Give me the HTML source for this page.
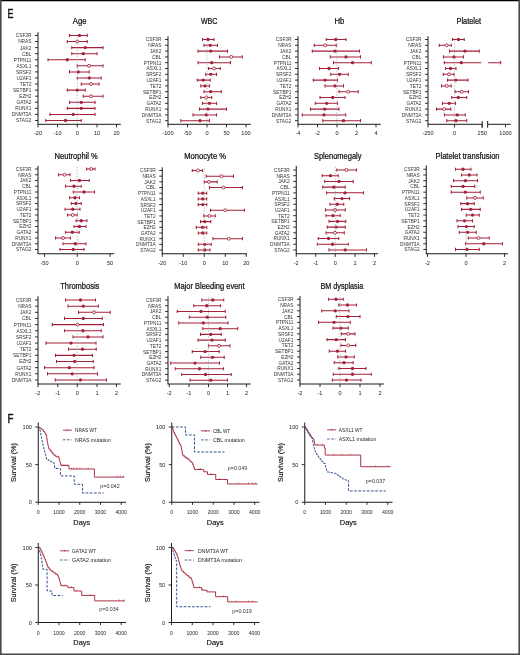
<!DOCTYPE html>
<html><head><meta charset="utf-8"><style>
html,body{margin:0;padding:0;background:#fff;}
body{width:520px;height:655px;overflow:hidden;position:relative;}
svg{position:absolute;left:0;top:0;display:block;will-change:transform;}
text{font-family:"Liberation Sans", sans-serif;}
</style></head><body>
<svg width="520" height="655" viewBox="0 0 520 655">
<rect x="0" y="0" width="520" height="655" fill="#fff"/>
<text x="0" y="0" font-size="12.2" fill="#111" stroke="#111" stroke-width="0.4" transform="translate(7.6 17.8) scale(0.73 1)">E</text>
<text x="0" y="0" font-size="12.2" fill="#111" stroke="#111" stroke-width="0.4" transform="translate(7.6 422.8) scale(0.8 1)">F</text>
<text x="79.65" y="24.00" font-size="8.5" text-anchor="middle" fill="#111" textLength="13.7" lengthAdjust="spacingAndGlyphs" stroke="#111" stroke-width="0.24">Age</text>
<path d="M38 32.2 V124.3" stroke="#1a1a1a" stroke-width="1" fill="none"/>
<path d="M37.5 124.3 H120.8" stroke="#1a1a1a" stroke-width="1" fill="none"/>
<path d="M38 124.3 V127.39999999999999" stroke="#1a1a1a" stroke-width="0.9"/>
<text x="38.00" y="135.40" font-size="5.6" text-anchor="middle" fill="#222" >-20</text>
<path d="M57.5 124.3 V127.39999999999999" stroke="#1a1a1a" stroke-width="0.9"/>
<text x="57.50" y="135.40" font-size="5.6" text-anchor="middle" fill="#222" >-10</text>
<path d="M77.3 124.3 V127.39999999999999" stroke="#1a1a1a" stroke-width="0.9"/>
<text x="77.30" y="135.40" font-size="5.6" text-anchor="middle" fill="#222" >0</text>
<path d="M97 124.3 V127.39999999999999" stroke="#1a1a1a" stroke-width="0.9"/>
<text x="97.00" y="135.40" font-size="5.6" text-anchor="middle" fill="#222" >10</text>
<path d="M116.5 124.3 V127.39999999999999" stroke="#1a1a1a" stroke-width="0.9"/>
<text x="116.50" y="135.40" font-size="5.6" text-anchor="middle" fill="#222" >20</text>
<path d="M35 35.45 H38" stroke="#1a1a1a" stroke-width="0.9"/>
<text x="0" y="0" font-size="5.5" text-anchor="end" fill="#333" transform="translate(31.40 37.40) scale(0.87 1)">CSF3R</text>
<path d="M69.5 35.45 H87.25 M69.5 33.85 V37.05 M87.25 33.85 V37.05" stroke="#a3213a" stroke-width="1.05" fill="none"/>
<circle cx="79.5" cy="35.45" r="1.65" fill="#a3213a"/>
<path d="M35 41.53 H38" stroke="#1a1a1a" stroke-width="0.9"/>
<text x="0" y="0" font-size="5.5" text-anchor="end" fill="#333" transform="translate(31.40 43.48) scale(0.87 1)">NRAS</text>
<path d="M67.25 41.53 H87.25 M67.25 39.93 V43.13 M87.25 39.93 V43.13" stroke="#a3213a" stroke-width="1.05" fill="none"/>
<circle cx="77.25" cy="41.53" r="1.5" fill="#fff" stroke="#a3213a" stroke-width="0.85"/>
<path d="M35 47.60 H38" stroke="#1a1a1a" stroke-width="0.9"/>
<text x="0" y="0" font-size="5.5" text-anchor="end" fill="#333" transform="translate(31.40 49.55) scale(0.87 1)">JAK2</text>
<path d="M71.75 47.60 H103 M71.75 46.00 V49.20 M103 46.00 V49.20" stroke="#a3213a" stroke-width="1.05" fill="none"/>
<circle cx="85.25" cy="47.60" r="1.65" fill="#a3213a"/>
<path d="M35 53.68 H38" stroke="#1a1a1a" stroke-width="0.9"/>
<text x="0" y="0" font-size="5.5" text-anchor="end" fill="#333" transform="translate(31.40 55.63) scale(0.87 1)">CBL</text>
<path d="M71.75 53.68 H97 M71.75 52.08 V55.28 M97 52.08 V55.28" stroke="#a3213a" stroke-width="1.05" fill="none"/>
<circle cx="83.25" cy="53.68" r="1.65" fill="#a3213a"/>
<path d="M35 59.75 H38" stroke="#1a1a1a" stroke-width="0.9"/>
<text x="0" y="0" font-size="5.5" text-anchor="end" fill="#333" transform="translate(31.40 61.70) scale(0.87 1)">PTPN11</text>
<path d="M48 59.75 H85.25 M48 58.15 V61.35 M85.25 58.15 V61.35" stroke="#a3213a" stroke-width="1.05" fill="none"/>
<circle cx="67.25" cy="59.75" r="1.65" fill="#a3213a"/>
<path d="M35 65.83 H38" stroke="#1a1a1a" stroke-width="0.9"/>
<text x="0" y="0" font-size="5.5" text-anchor="end" fill="#333" transform="translate(31.40 67.78) scale(0.87 1)">ASXL1</text>
<path d="M77.25 65.83 H103 M77.25 64.23 V67.42 M103 64.23 V67.42" stroke="#a3213a" stroke-width="1.05" fill="none"/>
<circle cx="89" cy="65.83" r="1.5" fill="#fff" stroke="#a3213a" stroke-width="0.85"/>
<path d="M35 71.90 H38" stroke="#1a1a1a" stroke-width="0.9"/>
<text x="0" y="0" font-size="5.5" text-anchor="end" fill="#333" transform="translate(31.40 73.85) scale(0.87 1)">SRSF2</text>
<path d="M69.5 71.90 H89.25 M69.5 70.30 V73.50 M89.25 70.30 V73.50" stroke="#a3213a" stroke-width="1.05" fill="none"/>
<circle cx="78.25" cy="71.90" r="1.65" fill="#a3213a"/>
<path d="M35 77.97 H38" stroke="#1a1a1a" stroke-width="0.9"/>
<text x="0" y="0" font-size="5.5" text-anchor="end" fill="#333" transform="translate(31.40 79.92) scale(0.87 1)">U2AF1</text>
<path d="M77.25 77.97 H101.25 M77.25 76.38 V79.57 M101.25 76.38 V79.57" stroke="#a3213a" stroke-width="1.05" fill="none"/>
<circle cx="89.25" cy="77.97" r="1.65" fill="#a3213a"/>
<path d="M35 84.05 H38" stroke="#1a1a1a" stroke-width="0.9"/>
<text x="0" y="0" font-size="5.5" text-anchor="end" fill="#333" transform="translate(31.40 86.00) scale(0.87 1)">TET2</text>
<path d="M81.25 84.05 H99 M81.25 82.45 V85.65 M99 82.45 V85.65" stroke="#a3213a" stroke-width="1.05" fill="none"/>
<circle cx="91" cy="84.05" r="1.5" fill="#fff" stroke="#a3213a" stroke-width="0.85"/>
<path d="M35 90.12 H38" stroke="#1a1a1a" stroke-width="0.9"/>
<text x="0" y="0" font-size="5.5" text-anchor="end" fill="#333" transform="translate(31.40 92.08) scale(0.87 1)">SETBP1</text>
<path d="M67.25 90.12 H85.25 M67.25 88.53 V91.72 M85.25 88.53 V91.72" stroke="#a3213a" stroke-width="1.05" fill="none"/>
<circle cx="77.25" cy="90.12" r="1.65" fill="#a3213a"/>
<path d="M35 96.20 H38" stroke="#1a1a1a" stroke-width="0.9"/>
<text x="0" y="0" font-size="5.5" text-anchor="end" fill="#333" transform="translate(31.40 98.15) scale(0.87 1)">EZH2</text>
<path d="M83.25 96.20 H103 M83.25 94.60 V97.80 M103 94.60 V97.80" stroke="#a3213a" stroke-width="1.05" fill="none"/>
<circle cx="91" cy="96.20" r="1.5" fill="#fff" stroke="#a3213a" stroke-width="0.85"/>
<path d="M35 102.28 H38" stroke="#1a1a1a" stroke-width="0.9"/>
<text x="0" y="0" font-size="5.5" text-anchor="end" fill="#333" transform="translate(31.40 104.23) scale(0.87 1)">GATA2</text>
<path d="M69.5 102.28 H95 M69.5 100.68 V103.88 M95 100.68 V103.88" stroke="#a3213a" stroke-width="1.05" fill="none"/>
<circle cx="81.25" cy="102.28" r="1.65" fill="#a3213a"/>
<path d="M35 108.35 H38" stroke="#1a1a1a" stroke-width="0.9"/>
<text x="0" y="0" font-size="5.5" text-anchor="end" fill="#333" transform="translate(31.40 110.30) scale(0.87 1)">RUNX1</text>
<path d="M67.25 108.35 H95 M67.25 106.75 V109.95 M95 106.75 V109.95" stroke="#a3213a" stroke-width="1.05" fill="none"/>
<circle cx="81.25" cy="108.35" r="1.65" fill="#a3213a"/>
<path d="M35 114.43 H38" stroke="#1a1a1a" stroke-width="0.9"/>
<text x="0" y="0" font-size="5.5" text-anchor="end" fill="#333" transform="translate(31.40 116.38) scale(0.87 1)">DNMT3A</text>
<path d="M50 114.43 H95 M50 112.83 V116.03 M95 112.83 V116.03" stroke="#a3213a" stroke-width="1.05" fill="none"/>
<circle cx="73.25" cy="114.43" r="1.65" fill="#a3213a"/>
<path d="M35 120.50 H38" stroke="#1a1a1a" stroke-width="0.9"/>
<text x="0" y="0" font-size="5.5" text-anchor="end" fill="#333" transform="translate(31.40 122.45) scale(0.87 1)">STAG2</text>
<path d="M45.75 120.50 H81.25 M45.75 118.90 V122.10 M81.25 118.90 V122.10" stroke="#a3213a" stroke-width="1.05" fill="none"/>
<circle cx="65.5" cy="120.50" r="1.65" fill="#a3213a"/>
<line x1="77.3" y1="37.5" x2="77.3" y2="123.5" stroke="#a0a0a0" stroke-width="0.75" stroke-dasharray="1.3 1.7"/>
<text x="209.15" y="24.00" font-size="8.5" text-anchor="middle" fill="#111" textLength="16.5" lengthAdjust="spacingAndGlyphs" stroke="#111" stroke-width="0.24">WBC</text>
<path d="M168 36.3 V124.3" stroke="#1a1a1a" stroke-width="1" fill="none"/>
<path d="M167.5 124.3 H250.75" stroke="#1a1a1a" stroke-width="1" fill="none"/>
<path d="M168 124.3 V127.39999999999999" stroke="#1a1a1a" stroke-width="0.9"/>
<text x="168.00" y="135.40" font-size="5.6" text-anchor="middle" fill="#222" >-100</text>
<path d="M187.5 124.3 V127.39999999999999" stroke="#1a1a1a" stroke-width="0.9"/>
<text x="187.50" y="135.40" font-size="5.6" text-anchor="middle" fill="#222" >-50</text>
<path d="M207 124.3 V127.39999999999999" stroke="#1a1a1a" stroke-width="0.9"/>
<text x="207.00" y="135.40" font-size="5.6" text-anchor="middle" fill="#222" >0</text>
<path d="M226.5 124.3 V127.39999999999999" stroke="#1a1a1a" stroke-width="0.9"/>
<text x="226.50" y="135.40" font-size="5.6" text-anchor="middle" fill="#222" >50</text>
<path d="M246 124.3 V127.39999999999999" stroke="#1a1a1a" stroke-width="0.9"/>
<text x="246.00" y="135.40" font-size="5.6" text-anchor="middle" fill="#222" >100</text>
<path d="M165 39.50 H168" stroke="#1a1a1a" stroke-width="0.9"/>
<text x="0" y="0" font-size="5.5" text-anchor="end" fill="#333" transform="translate(161.40 41.45) scale(0.87 1)">CSF3R</text>
<path d="M202.5 39.50 H214 M202.5 37.90 V41.10 M214 37.90 V41.10" stroke="#a3213a" stroke-width="1.05" fill="none"/>
<circle cx="208" cy="39.50" r="1.65" fill="#a3213a"/>
<path d="M165 45.30 H168" stroke="#1a1a1a" stroke-width="0.9"/>
<text x="0" y="0" font-size="5.5" text-anchor="end" fill="#333" transform="translate(161.40 47.25) scale(0.87 1)">NRAS</text>
<path d="M204 45.30 H217.5 M204 43.70 V46.90 M217.5 43.70 V46.90" stroke="#a3213a" stroke-width="1.05" fill="none"/>
<circle cx="210.25" cy="45.30" r="1.65" fill="#a3213a"/>
<path d="M165 51.10 H168" stroke="#1a1a1a" stroke-width="0.9"/>
<text x="0" y="0" font-size="5.5" text-anchor="end" fill="#333" transform="translate(161.40 53.05) scale(0.87 1)">JAK2</text>
<path d="M198 51.10 H227.5 M198 49.50 V52.70 M227.5 49.50 V52.70" stroke="#a3213a" stroke-width="1.05" fill="none"/>
<circle cx="210.75" cy="51.10" r="1.65" fill="#a3213a"/>
<path d="M165 56.90 H168" stroke="#1a1a1a" stroke-width="0.9"/>
<text x="0" y="0" font-size="5.5" text-anchor="end" fill="#333" transform="translate(161.40 58.85) scale(0.87 1)">CBL</text>
<path d="M219.5 56.90 H242.25 M219.5 55.30 V58.50 M242.25 55.30 V58.50" stroke="#a3213a" stroke-width="1.05" fill="none"/>
<circle cx="231.25" cy="56.90" r="1.5" fill="#fff" stroke="#a3213a" stroke-width="0.85"/>
<path d="M165 62.70 H168" stroke="#1a1a1a" stroke-width="0.9"/>
<text x="0" y="0" font-size="5.5" text-anchor="end" fill="#333" transform="translate(161.40 64.65) scale(0.87 1)">PTPN11</text>
<path d="M198 62.70 H230.5 M198 61.10 V64.30 M230.5 61.10 V64.30" stroke="#a3213a" stroke-width="1.05" fill="none"/>
<circle cx="211.75" cy="62.70" r="1.65" fill="#a3213a"/>
<path d="M165 68.50 H168" stroke="#1a1a1a" stroke-width="0.9"/>
<text x="0" y="0" font-size="5.5" text-anchor="end" fill="#333" transform="translate(161.40 70.45) scale(0.87 1)">ASXL1</text>
<path d="M208.5 68.50 H220.25 M208.5 66.90 V70.10 M220.25 66.90 V70.10" stroke="#a3213a" stroke-width="1.05" fill="none"/>
<circle cx="214" cy="68.50" r="1.5" fill="#fff" stroke="#a3213a" stroke-width="0.85"/>
<path d="M165 74.30 H168" stroke="#1a1a1a" stroke-width="0.9"/>
<text x="0" y="0" font-size="5.5" text-anchor="end" fill="#333" transform="translate(161.40 76.25) scale(0.87 1)">SRSF2</text>
<path d="M205.75 74.30 H216.5 M205.75 72.70 V75.90 M216.5 72.70 V75.90" stroke="#a3213a" stroke-width="1.05" fill="none"/>
<circle cx="210.75" cy="74.30" r="1.65" fill="#a3213a"/>
<path d="M165 80.10 H168" stroke="#1a1a1a" stroke-width="0.9"/>
<text x="0" y="0" font-size="5.5" text-anchor="end" fill="#333" transform="translate(161.40 82.05) scale(0.87 1)">U2AF1</text>
<path d="M197.25 80.10 H210.25 M197.25 78.50 V81.70 M210.25 78.50 V81.70" stroke="#a3213a" stroke-width="1.05" fill="none"/>
<circle cx="203.25" cy="80.10" r="1.65" fill="#a3213a"/>
<path d="M165 85.90 H168" stroke="#1a1a1a" stroke-width="0.9"/>
<text x="0" y="0" font-size="5.5" text-anchor="end" fill="#333" transform="translate(161.40 87.85) scale(0.87 1)">TET2</text>
<path d="M200.75 85.90 H209.5 M200.75 84.30 V87.50 M209.5 84.30 V87.50" stroke="#a3213a" stroke-width="1.05" fill="none"/>
<circle cx="205" cy="85.90" r="1.65" fill="#a3213a"/>
<path d="M165 91.70 H168" stroke="#1a1a1a" stroke-width="0.9"/>
<text x="0" y="0" font-size="5.5" text-anchor="end" fill="#333" transform="translate(161.40 93.65) scale(0.87 1)">SETBP1</text>
<path d="M204 91.70 H221.25 M204 90.10 V93.30 M221.25 90.10 V93.30" stroke="#a3213a" stroke-width="1.05" fill="none"/>
<circle cx="210.75" cy="91.70" r="1.65" fill="#a3213a"/>
<path d="M165 97.50 H168" stroke="#1a1a1a" stroke-width="0.9"/>
<text x="0" y="0" font-size="5.5" text-anchor="end" fill="#333" transform="translate(161.40 99.45) scale(0.87 1)">EZH2</text>
<path d="M200.75 97.50 H211.75 M200.75 95.90 V99.10 M211.75 95.90 V99.10" stroke="#a3213a" stroke-width="1.05" fill="none"/>
<circle cx="206.25" cy="97.50" r="1.5" fill="#fff" stroke="#a3213a" stroke-width="0.85"/>
<path d="M165 103.30 H168" stroke="#1a1a1a" stroke-width="0.9"/>
<text x="0" y="0" font-size="5.5" text-anchor="end" fill="#333" transform="translate(161.40 105.25) scale(0.87 1)">GATA2</text>
<path d="M202.5 103.30 H216.5 M202.5 101.70 V104.90 M216.5 101.70 V104.90" stroke="#a3213a" stroke-width="1.05" fill="none"/>
<circle cx="209.5" cy="103.30" r="1.65" fill="#a3213a"/>
<path d="M165 109.10 H168" stroke="#1a1a1a" stroke-width="0.9"/>
<text x="0" y="0" font-size="5.5" text-anchor="end" fill="#333" transform="translate(161.40 111.05) scale(0.87 1)">RUNX1</text>
<path d="M199.5 109.10 H226.5 M199.5 107.50 V110.70 M226.5 107.50 V110.70" stroke="#a3213a" stroke-width="1.05" fill="none"/>
<circle cx="208" cy="109.10" r="1.65" fill="#a3213a"/>
<path d="M165 114.90 H168" stroke="#1a1a1a" stroke-width="0.9"/>
<text x="0" y="0" font-size="5.5" text-anchor="end" fill="#333" transform="translate(161.40 116.85) scale(0.87 1)">DNMT3A</text>
<path d="M193 114.90 H216.5 M193 113.30 V116.50 M216.5 113.30 V116.50" stroke="#a3213a" stroke-width="1.05" fill="none"/>
<circle cx="206.25" cy="114.90" r="1.65" fill="#a3213a"/>
<path d="M165 120.70 H168" stroke="#1a1a1a" stroke-width="0.9"/>
<text x="0" y="0" font-size="5.5" text-anchor="end" fill="#333" transform="translate(161.40 122.65) scale(0.87 1)">STAG2</text>
<path d="M180.75 120.70 H209.5 M180.75 119.10 V122.30 M209.5 119.10 V122.30" stroke="#a3213a" stroke-width="1.05" fill="none"/>
<circle cx="200" cy="120.70" r="1.65" fill="#a3213a"/>
<line x1="206.9" y1="37.3" x2="206.9" y2="123.7" stroke="#a0a0a0" stroke-width="0.75" stroke-dasharray="1.3 1.7"/>
<text x="339.40" y="24.00" font-size="8.5" text-anchor="middle" fill="#111" textLength="9.799999999999999" lengthAdjust="spacingAndGlyphs" stroke="#111" stroke-width="0.24">Hb</text>
<path d="M298 36.3 V124.3" stroke="#1a1a1a" stroke-width="1" fill="none"/>
<path d="M297.5 124.3 H380.75" stroke="#1a1a1a" stroke-width="1" fill="none"/>
<path d="M298 124.3 V127.39999999999999" stroke="#1a1a1a" stroke-width="0.9"/>
<text x="298.00" y="135.40" font-size="5.6" text-anchor="middle" fill="#222" >-4</text>
<path d="M317.5 124.3 V127.39999999999999" stroke="#1a1a1a" stroke-width="0.9"/>
<text x="317.50" y="135.40" font-size="5.6" text-anchor="middle" fill="#222" >-2</text>
<path d="M337 124.3 V127.39999999999999" stroke="#1a1a1a" stroke-width="0.9"/>
<text x="337.00" y="135.40" font-size="5.6" text-anchor="middle" fill="#222" >0</text>
<path d="M356.5 124.3 V127.39999999999999" stroke="#1a1a1a" stroke-width="0.9"/>
<text x="356.50" y="135.40" font-size="5.6" text-anchor="middle" fill="#222" >2</text>
<path d="M376 124.3 V127.39999999999999" stroke="#1a1a1a" stroke-width="0.9"/>
<text x="376.00" y="135.40" font-size="5.6" text-anchor="middle" fill="#222" >4</text>
<path d="M295 39.50 H298" stroke="#1a1a1a" stroke-width="0.9"/>
<text x="0" y="0" font-size="5.5" text-anchor="end" fill="#333" transform="translate(291.40 41.45) scale(0.87 1)">CSF3R</text>
<path d="M326.25 39.50 H346 M326.25 37.90 V41.10 M346 37.90 V41.10" stroke="#a3213a" stroke-width="1.05" fill="none"/>
<circle cx="335.75" cy="39.50" r="1.65" fill="#a3213a"/>
<path d="M295 45.30 H298" stroke="#1a1a1a" stroke-width="0.9"/>
<text x="0" y="0" font-size="5.5" text-anchor="end" fill="#333" transform="translate(291.40 47.25) scale(0.87 1)">NRAS</text>
<path d="M314.25 45.30 H336.25 M314.25 43.70 V46.90 M336.25 43.70 V46.90" stroke="#a3213a" stroke-width="1.05" fill="none"/>
<circle cx="325.25" cy="45.30" r="1.5" fill="#fff" stroke="#a3213a" stroke-width="0.85"/>
<path d="M295 51.10 H298" stroke="#1a1a1a" stroke-width="0.9"/>
<text x="0" y="0" font-size="5.5" text-anchor="end" fill="#333" transform="translate(291.40 53.05) scale(0.87 1)">JAK2</text>
<path d="M312.25 51.10 H359.5 M312.25 49.50 V52.70 M359.5 49.50 V52.70" stroke="#a3213a" stroke-width="1.05" fill="none"/>
<circle cx="335" cy="51.10" r="1.65" fill="#a3213a"/>
<path d="M295 56.90 H298" stroke="#1a1a1a" stroke-width="0.9"/>
<text x="0" y="0" font-size="5.5" text-anchor="end" fill="#333" transform="translate(291.40 58.85) scale(0.87 1)">CBL</text>
<path d="M330.25 56.90 H360.5 M330.25 55.30 V58.50 M360.5 55.30 V58.50" stroke="#a3213a" stroke-width="1.05" fill="none"/>
<circle cx="346" cy="56.90" r="1.65" fill="#a3213a"/>
<path d="M295 62.70 H298" stroke="#1a1a1a" stroke-width="0.9"/>
<text x="0" y="0" font-size="5.5" text-anchor="end" fill="#333" transform="translate(291.40 64.65) scale(0.87 1)">PTPN11</text>
<path d="M333.5 62.70 H371.25 M333.5 61.10 V64.30 M371.25 61.10 V64.30" stroke="#a3213a" stroke-width="1.05" fill="none"/>
<circle cx="352.5" cy="62.70" r="1.65" fill="#a3213a"/>
<path d="M295 68.50 H298" stroke="#1a1a1a" stroke-width="0.9"/>
<text x="0" y="0" font-size="5.5" text-anchor="end" fill="#333" transform="translate(291.40 70.45) scale(0.87 1)">ASXL1</text>
<path d="M319.5 68.50 H338.5 M319.5 66.90 V70.10 M338.5 66.90 V70.10" stroke="#a3213a" stroke-width="1.05" fill="none"/>
<circle cx="329" cy="68.50" r="1.65" fill="#a3213a"/>
<path d="M295 74.30 H298" stroke="#1a1a1a" stroke-width="0.9"/>
<text x="0" y="0" font-size="5.5" text-anchor="end" fill="#333" transform="translate(291.40 76.25) scale(0.87 1)">SRSF2</text>
<path d="M330.75 74.30 H348.25 M330.75 72.70 V75.90 M348.25 72.70 V75.90" stroke="#a3213a" stroke-width="1.05" fill="none"/>
<circle cx="339.5" cy="74.30" r="1.65" fill="#a3213a"/>
<path d="M295 80.10 H298" stroke="#1a1a1a" stroke-width="0.9"/>
<text x="0" y="0" font-size="5.5" text-anchor="end" fill="#333" transform="translate(291.40 82.05) scale(0.87 1)">U2AF1</text>
<path d="M313.25 80.10 H337.5 M313.25 78.50 V81.70 M337.5 78.50 V81.70" stroke="#a3213a" stroke-width="1.05" fill="none"/>
<circle cx="325" cy="80.10" r="1.65" fill="#a3213a"/>
<path d="M295 85.90 H298" stroke="#1a1a1a" stroke-width="0.9"/>
<text x="0" y="0" font-size="5.5" text-anchor="end" fill="#333" transform="translate(291.40 87.85) scale(0.87 1)">TET2</text>
<path d="M325 85.90 H343.5 M325 84.30 V87.50 M343.5 84.30 V87.50" stroke="#a3213a" stroke-width="1.05" fill="none"/>
<circle cx="335" cy="85.90" r="1.65" fill="#a3213a"/>
<path d="M295 91.70 H298" stroke="#1a1a1a" stroke-width="0.9"/>
<text x="0" y="0" font-size="5.5" text-anchor="end" fill="#333" transform="translate(291.40 93.65) scale(0.87 1)">SETBP1</text>
<path d="M339 91.70 H358.25 M339 90.10 V93.30 M358.25 90.10 V93.30" stroke="#a3213a" stroke-width="1.05" fill="none"/>
<circle cx="348.25" cy="91.70" r="1.5" fill="#fff" stroke="#a3213a" stroke-width="0.85"/>
<path d="M295 97.50 H298" stroke="#1a1a1a" stroke-width="0.9"/>
<text x="0" y="0" font-size="5.5" text-anchor="end" fill="#333" transform="translate(291.40 99.45) scale(0.87 1)">EZH2</text>
<path d="M320 97.50 H345 M320 95.90 V99.10 M345 95.90 V99.10" stroke="#a3213a" stroke-width="1.05" fill="none"/>
<circle cx="332.75" cy="97.50" r="1.65" fill="#a3213a"/>
<path d="M295 103.30 H298" stroke="#1a1a1a" stroke-width="0.9"/>
<text x="0" y="0" font-size="5.5" text-anchor="end" fill="#333" transform="translate(291.40 105.25) scale(0.87 1)">GATA2</text>
<path d="M315.25 103.30 H337.5 M315.25 101.70 V104.90 M337.5 101.70 V104.90" stroke="#a3213a" stroke-width="1.05" fill="none"/>
<circle cx="326.75" cy="103.30" r="1.65" fill="#a3213a"/>
<path d="M295 109.10 H298" stroke="#1a1a1a" stroke-width="0.9"/>
<text x="0" y="0" font-size="5.5" text-anchor="end" fill="#333" transform="translate(291.40 111.05) scale(0.87 1)">RUNX1</text>
<path d="M310.5 109.10 H339 M310.5 107.50 V110.70 M339 107.50 V110.70" stroke="#a3213a" stroke-width="1.05" fill="none"/>
<circle cx="324.75" cy="109.10" r="1.65" fill="#a3213a"/>
<path d="M295 114.90 H298" stroke="#1a1a1a" stroke-width="0.9"/>
<text x="0" y="0" font-size="5.5" text-anchor="end" fill="#333" transform="translate(291.40 116.85) scale(0.87 1)">DNMT3A</text>
<path d="M302.25 114.90 H345.75 M302.25 113.30 V116.50 M345.75 113.30 V116.50" stroke="#a3213a" stroke-width="1.05" fill="none"/>
<circle cx="324" cy="114.90" r="1.65" fill="#a3213a"/>
<path d="M295 120.70 H298" stroke="#1a1a1a" stroke-width="0.9"/>
<text x="0" y="0" font-size="5.5" text-anchor="end" fill="#333" transform="translate(291.40 122.65) scale(0.87 1)">STAG2</text>
<path d="M322.75 120.70 H360.5 M322.75 119.10 V122.30 M360.5 119.10 V122.30" stroke="#a3213a" stroke-width="1.05" fill="none"/>
<circle cx="343.5" cy="120.70" r="1.65" fill="#a3213a"/>
<line x1="336.9" y1="37.3" x2="336.9" y2="123.7" stroke="#a0a0a0" stroke-width="0.75" stroke-dasharray="1.3 1.7"/>
<text x="468.80" y="24.00" font-size="8.5" text-anchor="middle" fill="#111" textLength="24.6" lengthAdjust="spacingAndGlyphs" stroke="#111" stroke-width="0.24">Platelet</text>
<path d="M428 36.3 V124.3" stroke="#1a1a1a" stroke-width="1" fill="none"/>
<path d="M427.5 124.3 H482.2 M487.6 124.3 H510.75" stroke="#1a1a1a" stroke-width="1" fill="none"/>
<path d="M482.2 120.89999999999999 V127.7 M487.6 120.89999999999999 V127.7" stroke="#333" stroke-width="1.1" fill="none"/>
<path d="M428 124.3 V127.39999999999999" stroke="#1a1a1a" stroke-width="0.9"/>
<text x="428.00" y="135.40" font-size="5.6" text-anchor="middle" fill="#222" >-250</text>
<path d="M454.5 124.3 V127.39999999999999" stroke="#1a1a1a" stroke-width="0.9"/>
<text x="454.50" y="135.40" font-size="5.6" text-anchor="middle" fill="#222" >0</text>
<path d="M482.2 124.3 V127.39999999999999" stroke="#1a1a1a" stroke-width="0.9"/>
<text x="482.20" y="135.40" font-size="5.6" text-anchor="middle" fill="#222" >250</text>
<path d="M505.5 124.3 V127.39999999999999" stroke="#1a1a1a" stroke-width="0.9"/>
<text x="505.50" y="135.40" font-size="5.6" text-anchor="middle" fill="#222" >1000</text>
<path d="M425 39.50 H428" stroke="#1a1a1a" stroke-width="0.9"/>
<text x="0" y="0" font-size="5.5" text-anchor="end" fill="#333" transform="translate(421.40 41.45) scale(0.87 1)">CSF3R</text>
<path d="M452.5 39.50 H464.25 M452.5 37.90 V41.10 M464.25 37.90 V41.10" stroke="#a3213a" stroke-width="1.05" fill="none"/>
<circle cx="458.5" cy="39.50" r="1.65" fill="#a3213a"/>
<path d="M425 45.30 H428" stroke="#1a1a1a" stroke-width="0.9"/>
<text x="0" y="0" font-size="5.5" text-anchor="end" fill="#333" transform="translate(421.40 47.25) scale(0.87 1)">NRAS</text>
<path d="M439.25 45.30 H451.25 M439.25 43.70 V46.90 M451.25 43.70 V46.90" stroke="#a3213a" stroke-width="1.05" fill="none"/>
<circle cx="446.5" cy="45.30" r="1.5" fill="#fff" stroke="#a3213a" stroke-width="0.85"/>
<path d="M425 51.10 H428" stroke="#1a1a1a" stroke-width="0.9"/>
<text x="0" y="0" font-size="5.5" text-anchor="end" fill="#333" transform="translate(421.40 53.05) scale(0.87 1)">JAK2</text>
<path d="M449.5 51.10 H479.25 M449.5 49.50 V52.70 M479.25 49.50 V52.70" stroke="#a3213a" stroke-width="1.05" fill="none"/>
<circle cx="465" cy="51.10" r="1.65" fill="#a3213a"/>
<path d="M425 56.90 H428" stroke="#1a1a1a" stroke-width="0.9"/>
<text x="0" y="0" font-size="5.5" text-anchor="end" fill="#333" transform="translate(421.40 58.85) scale(0.87 1)">CBL</text>
<path d="M443.5 56.90 H463.5 M443.5 55.30 V58.50 M463.5 55.30 V58.50" stroke="#a3213a" stroke-width="1.05" fill="none"/>
<circle cx="454" cy="56.90" r="1.65" fill="#a3213a"/>
<path d="M425 62.70 H428" stroke="#1a1a1a" stroke-width="0.9"/>
<text x="0" y="0" font-size="5.5" text-anchor="end" fill="#333" transform="translate(421.40 64.65) scale(0.87 1)">PTPN11</text>
<path d="M444.25 62.70 H481.25 M444.25 61.10 V64.30 M488.2 62.70 H500.7 M500.7 61.10 V64.30" stroke="#a3213a" stroke-width="1.05" fill="none"/>
<circle cx="461.25" cy="62.70" r="1.65" fill="#a3213a"/>
<path d="M425 68.50 H428" stroke="#1a1a1a" stroke-width="0.9"/>
<text x="0" y="0" font-size="5.5" text-anchor="end" fill="#333" transform="translate(421.40 70.45) scale(0.87 1)">ASXL1</text>
<path d="M445.5 68.50 H456 M445.5 66.90 V70.10 M456 66.90 V70.10" stroke="#a3213a" stroke-width="1.05" fill="none"/>
<circle cx="450.5" cy="68.50" r="1.65" fill="#a3213a"/>
<path d="M425 74.30 H428" stroke="#1a1a1a" stroke-width="0.9"/>
<text x="0" y="0" font-size="5.5" text-anchor="end" fill="#333" transform="translate(421.40 76.25) scale(0.87 1)">SRSF2</text>
<path d="M443.25 74.30 H454 M443.25 72.70 V75.90 M454 72.70 V75.90" stroke="#a3213a" stroke-width="1.05" fill="none"/>
<circle cx="449" cy="74.30" r="1.5" fill="#fff" stroke="#a3213a" stroke-width="0.85"/>
<path d="M425 80.10 H428" stroke="#1a1a1a" stroke-width="0.9"/>
<text x="0" y="0" font-size="5.5" text-anchor="end" fill="#333" transform="translate(421.40 82.05) scale(0.87 1)">U2AF1</text>
<path d="M447.5 80.10 H468 M447.5 78.50 V81.70 M468 78.50 V81.70" stroke="#a3213a" stroke-width="1.05" fill="none"/>
<circle cx="455.75" cy="80.10" r="1.65" fill="#a3213a"/>
<path d="M425 85.90 H428" stroke="#1a1a1a" stroke-width="0.9"/>
<text x="0" y="0" font-size="5.5" text-anchor="end" fill="#333" transform="translate(421.40 87.85) scale(0.87 1)">TET2</text>
<path d="M441.5 85.90 H451.25 M441.5 84.30 V87.50 M451.25 84.30 V87.50" stroke="#a3213a" stroke-width="1.05" fill="none"/>
<circle cx="446.75" cy="85.90" r="1.5" fill="#fff" stroke="#a3213a" stroke-width="0.85"/>
<path d="M425 91.70 H428" stroke="#1a1a1a" stroke-width="0.9"/>
<text x="0" y="0" font-size="5.5" text-anchor="end" fill="#333" transform="translate(421.40 93.65) scale(0.87 1)">SETBP1</text>
<path d="M455 91.70 H468.5 M455 90.10 V93.30 M468.5 90.10 V93.30" stroke="#a3213a" stroke-width="1.05" fill="none"/>
<circle cx="461.75" cy="91.70" r="1.5" fill="#fff" stroke="#a3213a" stroke-width="0.85"/>
<path d="M425 97.50 H428" stroke="#1a1a1a" stroke-width="0.9"/>
<text x="0" y="0" font-size="5.5" text-anchor="end" fill="#333" transform="translate(421.40 99.45) scale(0.87 1)">EZH2</text>
<path d="M451.75 97.50 H466.75 M451.75 95.90 V99.10 M466.75 95.90 V99.10" stroke="#a3213a" stroke-width="1.05" fill="none"/>
<circle cx="458.25" cy="97.50" r="1.65" fill="#a3213a"/>
<path d="M425 103.30 H428" stroke="#1a1a1a" stroke-width="0.9"/>
<text x="0" y="0" font-size="5.5" text-anchor="end" fill="#333" transform="translate(421.40 105.25) scale(0.87 1)">GATA2</text>
<path d="M442.5 103.30 H455.5 M442.5 101.70 V104.90 M455.5 101.70 V104.90" stroke="#a3213a" stroke-width="1.05" fill="none"/>
<circle cx="449.25" cy="103.30" r="1.65" fill="#a3213a"/>
<path d="M425 109.10 H428" stroke="#1a1a1a" stroke-width="0.9"/>
<text x="0" y="0" font-size="5.5" text-anchor="end" fill="#333" transform="translate(421.40 111.05) scale(0.87 1)">RUNX1</text>
<path d="M436.5 109.10 H450.75 M436.5 107.50 V110.70 M450.75 107.50 V110.70" stroke="#a3213a" stroke-width="1.05" fill="none"/>
<circle cx="444.25" cy="109.10" r="1.5" fill="#fff" stroke="#a3213a" stroke-width="0.85"/>
<path d="M425 114.90 H428" stroke="#1a1a1a" stroke-width="0.9"/>
<text x="0" y="0" font-size="5.5" text-anchor="end" fill="#333" transform="translate(421.40 116.85) scale(0.87 1)">DNMT3A</text>
<path d="M444.5 114.90 H465.25 M444.5 113.30 V116.50 M465.25 113.30 V116.50" stroke="#a3213a" stroke-width="1.05" fill="none"/>
<circle cx="457.25" cy="114.90" r="1.65" fill="#a3213a"/>
<path d="M425 120.70 H428" stroke="#1a1a1a" stroke-width="0.9"/>
<text x="0" y="0" font-size="5.5" text-anchor="end" fill="#333" transform="translate(421.40 122.65) scale(0.87 1)">STAG2</text>
<path d="M446.75 120.70 H466.75 M446.75 119.10 V122.30 M466.75 119.10 V122.30" stroke="#a3213a" stroke-width="1.05" fill="none"/>
<circle cx="456" cy="120.70" r="1.65" fill="#a3213a"/>
<line x1="454.6" y1="37.3" x2="454.6" y2="123.7" stroke="#a0a0a0" stroke-width="0.75" stroke-dasharray="1.3 1.7"/>
<text x="76.20" y="159.10" font-size="8.5" text-anchor="middle" fill="#111" textLength="43.300000000000004" lengthAdjust="spacingAndGlyphs" stroke="#111" stroke-width="0.24">Neutrophil %</text>
<path d="M38 166 V253.75" stroke="#1a1a1a" stroke-width="1" fill="none"/>
<path d="M37.5 253.75 H114.3" stroke="#1a1a1a" stroke-width="1" fill="none"/>
<path d="M44.5 253.75 V256.85" stroke="#1a1a1a" stroke-width="0.9"/>
<text x="44.50" y="264.90" font-size="5.6" text-anchor="middle" fill="#222" >-50</text>
<path d="M77.25 253.75 V256.85" stroke="#1a1a1a" stroke-width="0.9"/>
<text x="77.25" y="264.90" font-size="5.6" text-anchor="middle" fill="#222" >0</text>
<path d="M110 253.75 V256.85" stroke="#1a1a1a" stroke-width="0.9"/>
<text x="110.00" y="264.90" font-size="5.6" text-anchor="middle" fill="#222" >50</text>
<path d="M35 169.00 H38" stroke="#1a1a1a" stroke-width="0.9"/>
<text x="0" y="0" font-size="5.5" text-anchor="end" fill="#333" transform="translate(31.40 170.95) scale(0.87 1)">CSF3R</text>
<path d="M86.5 169.00 H95 M86.5 167.40 V170.60 M95 167.40 V170.60" stroke="#a3213a" stroke-width="1.05" fill="none"/>
<circle cx="91.25" cy="169.00" r="1.5" fill="#fff" stroke="#a3213a" stroke-width="0.85"/>
<path d="M35 174.75 H38" stroke="#1a1a1a" stroke-width="0.9"/>
<text x="0" y="0" font-size="5.5" text-anchor="end" fill="#333" transform="translate(31.40 176.70) scale(0.87 1)">NRAS</text>
<path d="M58.5 174.75 H70 M58.5 173.15 V176.35 M70 173.15 V176.35" stroke="#a3213a" stroke-width="1.05" fill="none"/>
<circle cx="64.5" cy="174.75" r="1.5" fill="#fff" stroke="#a3213a" stroke-width="0.85"/>
<path d="M35 180.50 H38" stroke="#1a1a1a" stroke-width="0.9"/>
<text x="0" y="0" font-size="5.5" text-anchor="end" fill="#333" transform="translate(31.40 182.45) scale(0.87 1)">JAK2</text>
<path d="M70.5 180.50 H89.25 M70.5 178.90 V182.10 M89.25 178.90 V182.10" stroke="#a3213a" stroke-width="1.05" fill="none"/>
<circle cx="79.5" cy="180.50" r="1.65" fill="#a3213a"/>
<path d="M35 186.25 H38" stroke="#1a1a1a" stroke-width="0.9"/>
<text x="0" y="0" font-size="5.5" text-anchor="end" fill="#333" transform="translate(31.40 188.20) scale(0.87 1)">CBL</text>
<path d="M65.5 186.25 H81.25 M65.5 184.65 V187.85 M81.25 184.65 V187.85" stroke="#a3213a" stroke-width="1.05" fill="none"/>
<circle cx="74" cy="186.25" r="1.65" fill="#a3213a"/>
<path d="M35 192.00 H38" stroke="#1a1a1a" stroke-width="0.9"/>
<text x="0" y="0" font-size="5.5" text-anchor="end" fill="#333" transform="translate(31.40 193.95) scale(0.87 1)">PTPN11</text>
<path d="M73.25 192.00 H94.5 M73.25 190.40 V193.60 M94.5 190.40 V193.60" stroke="#a3213a" stroke-width="1.05" fill="none"/>
<circle cx="84" cy="192.00" r="1.65" fill="#a3213a"/>
<path d="M35 197.75 H38" stroke="#1a1a1a" stroke-width="0.9"/>
<text x="0" y="0" font-size="5.5" text-anchor="end" fill="#333" transform="translate(31.40 199.70) scale(0.87 1)">ASXL1</text>
<path d="M69.5 197.75 H79.5 M69.5 196.15 V199.35 M79.5 196.15 V199.35" stroke="#a3213a" stroke-width="1.05" fill="none"/>
<circle cx="75" cy="197.75" r="1.65" fill="#a3213a"/>
<path d="M35 203.50 H38" stroke="#1a1a1a" stroke-width="0.9"/>
<text x="0" y="0" font-size="5.5" text-anchor="end" fill="#333" transform="translate(31.40 205.45) scale(0.87 1)">SRSF2</text>
<path d="M71.25 203.50 H81.25 M71.25 201.90 V205.10 M81.25 201.90 V205.10" stroke="#a3213a" stroke-width="1.05" fill="none"/>
<circle cx="76" cy="203.50" r="1.65" fill="#a3213a"/>
<path d="M35 209.25 H38" stroke="#1a1a1a" stroke-width="0.9"/>
<text x="0" y="0" font-size="5.5" text-anchor="end" fill="#333" transform="translate(31.40 211.20) scale(0.87 1)">U2AF1</text>
<path d="M65 209.25 H80 M65 207.65 V210.85 M80 207.65 V210.85" stroke="#a3213a" stroke-width="1.05" fill="none"/>
<circle cx="72.75" cy="209.25" r="1.65" fill="#a3213a"/>
<path d="M35 215.00 H38" stroke="#1a1a1a" stroke-width="0.9"/>
<text x="0" y="0" font-size="5.5" text-anchor="end" fill="#333" transform="translate(31.40 216.95) scale(0.87 1)">TET2</text>
<path d="M67.5 215.00 H77.25 M67.5 213.40 V216.60 M77.25 213.40 V216.60" stroke="#a3213a" stroke-width="1.05" fill="none"/>
<circle cx="72.75" cy="215.00" r="1.5" fill="#fff" stroke="#a3213a" stroke-width="0.85"/>
<path d="M35 220.75 H38" stroke="#1a1a1a" stroke-width="0.9"/>
<text x="0" y="0" font-size="5.5" text-anchor="end" fill="#333" transform="translate(31.40 222.70) scale(0.87 1)">SETBP1</text>
<path d="M76 220.75 H87 M76 219.15 V222.35 M87 219.15 V222.35" stroke="#a3213a" stroke-width="1.05" fill="none"/>
<circle cx="81.25" cy="220.75" r="1.65" fill="#a3213a"/>
<path d="M35 226.50 H38" stroke="#1a1a1a" stroke-width="0.9"/>
<text x="0" y="0" font-size="5.5" text-anchor="end" fill="#333" transform="translate(31.40 228.45) scale(0.87 1)">EZH2</text>
<path d="M74 226.50 H86 M74 224.90 V228.10 M86 224.90 V228.10" stroke="#a3213a" stroke-width="1.05" fill="none"/>
<circle cx="79.5" cy="226.50" r="1.65" fill="#a3213a"/>
<path d="M35 232.25 H38" stroke="#1a1a1a" stroke-width="0.9"/>
<text x="0" y="0" font-size="5.5" text-anchor="end" fill="#333" transform="translate(31.40 234.20) scale(0.87 1)">GATA2</text>
<path d="M65.5 232.25 H79.25 M65.5 230.65 V233.85 M79.25 230.65 V233.85" stroke="#a3213a" stroke-width="1.05" fill="none"/>
<circle cx="72.25" cy="232.25" r="1.65" fill="#a3213a"/>
<path d="M35 238.00 H38" stroke="#1a1a1a" stroke-width="0.9"/>
<text x="0" y="0" font-size="5.5" text-anchor="end" fill="#333" transform="translate(31.40 239.95) scale(0.87 1)">RUNX1</text>
<path d="M55.5 238.00 H70.5 M55.5 236.40 V239.60 M70.5 236.40 V239.60" stroke="#a3213a" stroke-width="1.05" fill="none"/>
<circle cx="63" cy="238.00" r="1.5" fill="#fff" stroke="#a3213a" stroke-width="0.85"/>
<path d="M35 243.75 H38" stroke="#1a1a1a" stroke-width="0.9"/>
<text x="0" y="0" font-size="5.5" text-anchor="end" fill="#333" transform="translate(31.40 245.70) scale(0.87 1)">DNMT3A</text>
<path d="M63 243.75 H86 M63 242.15 V245.35 M86 242.15 V245.35" stroke="#a3213a" stroke-width="1.05" fill="none"/>
<circle cx="75.25" cy="243.75" r="1.65" fill="#a3213a"/>
<path d="M35 249.50 H38" stroke="#1a1a1a" stroke-width="0.9"/>
<text x="0" y="0" font-size="5.5" text-anchor="end" fill="#333" transform="translate(31.40 251.45) scale(0.87 1)">STAG2</text>
<path d="M60 249.50 H84 M60 247.90 V251.10 M84 247.90 V251.10" stroke="#a3213a" stroke-width="1.05" fill="none"/>
<circle cx="73.25" cy="249.50" r="1.65" fill="#a3213a"/>
<line x1="77.25" y1="167" x2="77.25" y2="252.5" stroke="#a0a0a0" stroke-width="0.75" stroke-dasharray="1.3 1.7"/>
<text x="205.10" y="159.10" font-size="8.5" text-anchor="middle" fill="#111" textLength="41.85" lengthAdjust="spacingAndGlyphs" stroke="#111" stroke-width="0.24">Monocyte %</text>
<path d="M162.25 167.3 V253.75" stroke="#1a1a1a" stroke-width="1" fill="none"/>
<path d="M161.75 253.75 H247" stroke="#1a1a1a" stroke-width="1" fill="none"/>
<path d="M162.25 253.75 V256.85" stroke="#1a1a1a" stroke-width="0.9"/>
<text x="162.25" y="264.90" font-size="5.6" text-anchor="middle" fill="#222" >-20</text>
<path d="M183.25 253.75 V256.85" stroke="#1a1a1a" stroke-width="0.9"/>
<text x="183.25" y="264.90" font-size="5.6" text-anchor="middle" fill="#222" >-10</text>
<path d="M204.25 253.75 V256.85" stroke="#1a1a1a" stroke-width="0.9"/>
<text x="204.25" y="264.90" font-size="5.6" text-anchor="middle" fill="#222" >0</text>
<path d="M225.25 253.75 V256.85" stroke="#1a1a1a" stroke-width="0.9"/>
<text x="225.25" y="264.90" font-size="5.6" text-anchor="middle" fill="#222" >10</text>
<path d="M246.25 253.75 V256.85" stroke="#1a1a1a" stroke-width="0.9"/>
<text x="246.25" y="264.90" font-size="5.6" text-anchor="middle" fill="#222" >20</text>
<path d="M159.25 170.50 H162.25" stroke="#1a1a1a" stroke-width="0.9"/>
<text x="0" y="0" font-size="5.5" text-anchor="end" fill="#333" transform="translate(155.65 172.45) scale(0.87 1)">CSF3R</text>
<path d="M192.25 170.50 H202.5 M192.25 168.90 V172.10 M202.5 168.90 V172.10" stroke="#a3213a" stroke-width="1.05" fill="none"/>
<circle cx="198" cy="170.50" r="1.5" fill="#fff" stroke="#a3213a" stroke-width="0.85"/>
<path d="M159.25 176.18 H162.25" stroke="#1a1a1a" stroke-width="0.9"/>
<text x="0" y="0" font-size="5.5" text-anchor="end" fill="#333" transform="translate(155.65 178.13) scale(0.87 1)">NRAS</text>
<path d="M206.25 176.18 H233.5 M206.25 174.58 V177.78 M233.5 174.58 V177.78" stroke="#a3213a" stroke-width="1.05" fill="none"/>
<circle cx="221.5" cy="176.18" r="1.5" fill="#fff" stroke="#a3213a" stroke-width="0.85"/>
<path d="M159.25 181.86 H162.25" stroke="#1a1a1a" stroke-width="0.9"/>
<text x="0" y="0" font-size="5.5" text-anchor="end" fill="#333" transform="translate(155.65 183.81) scale(0.87 1)">JAK2</text>
<path d="M204.25 181.86 H217.25 M204.25 180.26 V183.46 M217.25 180.26 V183.46" stroke="#a3213a" stroke-width="1.05" fill="none"/>
<circle cx="209" cy="181.86" r="1.5" fill="#fff" stroke="#a3213a" stroke-width="0.85"/>
<path d="M159.25 187.54 H162.25" stroke="#1a1a1a" stroke-width="0.9"/>
<text x="0" y="0" font-size="5.5" text-anchor="end" fill="#333" transform="translate(155.65 189.49) scale(0.87 1)">CBL</text>
<path d="M209.5 187.54 H242.5 M209.5 185.94 V189.14 M242.5 185.94 V189.14" stroke="#a3213a" stroke-width="1.05" fill="none"/>
<circle cx="223.5" cy="187.54" r="1.5" fill="#fff" stroke="#a3213a" stroke-width="0.85"/>
<path d="M159.25 193.22 H162.25" stroke="#1a1a1a" stroke-width="0.9"/>
<text x="0" y="0" font-size="5.5" text-anchor="end" fill="#333" transform="translate(155.65 195.17) scale(0.87 1)">PTPN11</text>
<path d="M198.25 193.22 H206.75 M198.25 191.62 V194.82 M206.75 191.62 V194.82" stroke="#a3213a" stroke-width="1.05" fill="none"/>
<circle cx="202.75" cy="193.22" r="1.65" fill="#a3213a"/>
<path d="M159.25 198.90 H162.25" stroke="#1a1a1a" stroke-width="0.9"/>
<text x="0" y="0" font-size="5.5" text-anchor="end" fill="#333" transform="translate(155.65 200.85) scale(0.87 1)">ASXL1</text>
<path d="M198.25 198.90 H206.75 M198.25 197.30 V200.50 M206.75 197.30 V200.50" stroke="#a3213a" stroke-width="1.05" fill="none"/>
<circle cx="202.75" cy="198.90" r="1.65" fill="#a3213a"/>
<path d="M159.25 204.58 H162.25" stroke="#1a1a1a" stroke-width="0.9"/>
<text x="0" y="0" font-size="5.5" text-anchor="end" fill="#333" transform="translate(155.65 206.53) scale(0.87 1)">SRSF2</text>
<path d="M198.25 204.58 H206.75 M198.25 202.98 V206.18 M206.75 202.98 V206.18" stroke="#a3213a" stroke-width="1.05" fill="none"/>
<circle cx="202.75" cy="204.58" r="1.65" fill="#a3213a"/>
<path d="M159.25 210.26 H162.25" stroke="#1a1a1a" stroke-width="0.9"/>
<text x="0" y="0" font-size="5.5" text-anchor="end" fill="#333" transform="translate(155.65 212.21) scale(0.87 1)">U2AF1</text>
<path d="M210.5 210.26 H244.5 M210.5 208.66 V211.86 M244.5 208.66 V211.86" stroke="#a3213a" stroke-width="1.05" fill="none"/>
<circle cx="225.25" cy="210.26" r="1.5" fill="#fff" stroke="#a3213a" stroke-width="0.85"/>
<path d="M159.25 215.94 H162.25" stroke="#1a1a1a" stroke-width="0.9"/>
<text x="0" y="0" font-size="5.5" text-anchor="end" fill="#333" transform="translate(155.65 217.89) scale(0.87 1)">TET2</text>
<path d="M203.75 215.94 H215.25 M203.75 214.34 V217.54 M215.25 214.34 V217.54" stroke="#a3213a" stroke-width="1.05" fill="none"/>
<circle cx="209.5" cy="215.94" r="1.5" fill="#fff" stroke="#a3213a" stroke-width="0.85"/>
<path d="M159.25 221.62 H162.25" stroke="#1a1a1a" stroke-width="0.9"/>
<text x="0" y="0" font-size="5.5" text-anchor="end" fill="#333" transform="translate(155.65 223.57) scale(0.87 1)">SETBP1</text>
<path d="M200.5 221.62 H210.75 M200.5 220.02 V223.22 M210.75 220.02 V223.22" stroke="#a3213a" stroke-width="1.05" fill="none"/>
<circle cx="204.75" cy="221.62" r="1.65" fill="#a3213a"/>
<path d="M159.25 227.30 H162.25" stroke="#1a1a1a" stroke-width="0.9"/>
<text x="0" y="0" font-size="5.5" text-anchor="end" fill="#333" transform="translate(155.65 229.25) scale(0.87 1)">EZH2</text>
<path d="M196.25 227.30 H206.75 M196.25 225.70 V228.90 M206.75 225.70 V228.90" stroke="#a3213a" stroke-width="1.05" fill="none"/>
<circle cx="202.5" cy="227.30" r="1.65" fill="#a3213a"/>
<path d="M159.25 232.98 H162.25" stroke="#1a1a1a" stroke-width="0.9"/>
<text x="0" y="0" font-size="5.5" text-anchor="end" fill="#333" transform="translate(155.65 234.93) scale(0.87 1)">GATA2</text>
<path d="M198.25 232.98 H206.75 M198.25 231.38 V234.58 M206.75 231.38 V234.58" stroke="#a3213a" stroke-width="1.05" fill="none"/>
<circle cx="202.75" cy="232.98" r="1.65" fill="#a3213a"/>
<path d="M159.25 238.66 H162.25" stroke="#1a1a1a" stroke-width="0.9"/>
<text x="0" y="0" font-size="5.5" text-anchor="end" fill="#333" transform="translate(155.65 240.61) scale(0.87 1)">RUNX1</text>
<path d="M213 238.66 H242.5 M213 237.06 V240.26 M242.5 237.06 V240.26" stroke="#a3213a" stroke-width="1.05" fill="none"/>
<circle cx="228.75" cy="238.66" r="1.5" fill="#fff" stroke="#a3213a" stroke-width="0.85"/>
<path d="M159.25 244.34 H162.25" stroke="#1a1a1a" stroke-width="0.9"/>
<text x="0" y="0" font-size="5.5" text-anchor="end" fill="#333" transform="translate(155.65 246.29) scale(0.87 1)">DNMT3A</text>
<path d="M198.25 244.34 H211.25 M198.25 242.74 V245.94 M211.25 242.74 V245.94" stroke="#a3213a" stroke-width="1.05" fill="none"/>
<circle cx="204.75" cy="244.34" r="1.65" fill="#a3213a"/>
<path d="M159.25 250.02 H162.25" stroke="#1a1a1a" stroke-width="0.9"/>
<text x="0" y="0" font-size="5.5" text-anchor="end" fill="#333" transform="translate(155.65 251.97) scale(0.87 1)">STAG2</text>
<path d="M198.25 250.02 H210 M198.25 248.42 V251.62 M210 248.42 V251.62" stroke="#a3213a" stroke-width="1.05" fill="none"/>
<circle cx="204.75" cy="250.02" r="1.65" fill="#a3213a"/>
<line x1="204.25" y1="168.3" x2="204.25" y2="253.01999999999998" stroke="#a0a0a0" stroke-width="0.75" stroke-dasharray="1.3 1.7"/>
<text x="337.75" y="159.10" font-size="8.5" text-anchor="middle" fill="#111" textLength="47.6" lengthAdjust="spacingAndGlyphs" stroke="#111" stroke-width="0.24">Splenomegaly</text>
<path d="M296.25 165.8 V253.75" stroke="#1a1a1a" stroke-width="1" fill="none"/>
<path d="M295.75 253.75 H378" stroke="#1a1a1a" stroke-width="1" fill="none"/>
<path d="M296.25 253.75 V256.85" stroke="#1a1a1a" stroke-width="0.9"/>
<text x="296.25" y="264.90" font-size="5.6" text-anchor="middle" fill="#222" >-2</text>
<path d="M315.75 253.75 V256.85" stroke="#1a1a1a" stroke-width="0.9"/>
<text x="315.75" y="264.90" font-size="5.6" text-anchor="middle" fill="#222" >-1</text>
<path d="M335.25 253.75 V256.85" stroke="#1a1a1a" stroke-width="0.9"/>
<text x="335.25" y="264.90" font-size="5.6" text-anchor="middle" fill="#222" >0</text>
<path d="M355 253.75 V256.85" stroke="#1a1a1a" stroke-width="0.9"/>
<text x="355.00" y="264.90" font-size="5.6" text-anchor="middle" fill="#222" >1</text>
<path d="M374.5 253.75 V256.85" stroke="#1a1a1a" stroke-width="0.9"/>
<text x="374.50" y="264.90" font-size="5.6" text-anchor="middle" fill="#222" >2</text>
<path d="M293.25 170.00 H296.25" stroke="#1a1a1a" stroke-width="0.9"/>
<text x="0" y="0" font-size="5.5" text-anchor="end" fill="#333" transform="translate(289.65 171.95) scale(0.87 1)">CSF3R</text>
<path d="M336.75 170.00 H356.5 M336.75 168.40 V171.60 M356.5 168.40 V171.60" stroke="#a3213a" stroke-width="1.05" fill="none"/>
<circle cx="346.5" cy="170.00" r="1.5" fill="#fff" stroke="#a3213a" stroke-width="0.85"/>
<path d="M293.25 175.71 H296.25" stroke="#1a1a1a" stroke-width="0.9"/>
<text x="0" y="0" font-size="5.5" text-anchor="end" fill="#333" transform="translate(289.65 177.66) scale(0.87 1)">NRAS</text>
<path d="M322.25 175.71 H338.25 M322.25 174.11 V177.31 M338.25 174.11 V177.31" stroke="#a3213a" stroke-width="1.05" fill="none"/>
<circle cx="330.5" cy="175.71" r="1.65" fill="#a3213a"/>
<path d="M293.25 181.42 H296.25" stroke="#1a1a1a" stroke-width="0.9"/>
<text x="0" y="0" font-size="5.5" text-anchor="end" fill="#333" transform="translate(289.65 183.37) scale(0.87 1)">JAK2</text>
<path d="M324.75 181.42 H353.25 M324.75 179.82 V183.02 M353.25 179.82 V183.02" stroke="#a3213a" stroke-width="1.05" fill="none"/>
<circle cx="339" cy="181.42" r="1.65" fill="#a3213a"/>
<path d="M293.25 187.13 H296.25" stroke="#1a1a1a" stroke-width="0.9"/>
<text x="0" y="0" font-size="5.5" text-anchor="end" fill="#333" transform="translate(289.65 189.08) scale(0.87 1)">CBL</text>
<path d="M322.75 187.13 H345.25 M322.75 185.53 V188.73 M345.25 185.53 V188.73" stroke="#a3213a" stroke-width="1.05" fill="none"/>
<circle cx="333.75" cy="187.13" r="1.65" fill="#a3213a"/>
<path d="M293.25 192.84 H296.25" stroke="#1a1a1a" stroke-width="0.9"/>
<text x="0" y="0" font-size="5.5" text-anchor="end" fill="#333" transform="translate(289.65 194.79) scale(0.87 1)">PTPN11</text>
<path d="M326.5 192.84 H363.5 M326.5 191.24 V194.44 M363.5 191.24 V194.44" stroke="#a3213a" stroke-width="1.05" fill="none"/>
<circle cx="345" cy="192.84" r="1.65" fill="#a3213a"/>
<path d="M293.25 198.55 H296.25" stroke="#1a1a1a" stroke-width="0.9"/>
<text x="0" y="0" font-size="5.5" text-anchor="end" fill="#333" transform="translate(289.65 200.50) scale(0.87 1)">ASXL1</text>
<path d="M334.25 198.55 H349.5 M334.25 196.95 V200.15 M349.5 196.95 V200.15" stroke="#a3213a" stroke-width="1.05" fill="none"/>
<circle cx="342" cy="198.55" r="1.65" fill="#a3213a"/>
<path d="M293.25 204.26 H296.25" stroke="#1a1a1a" stroke-width="0.9"/>
<text x="0" y="0" font-size="5.5" text-anchor="end" fill="#333" transform="translate(289.65 206.21) scale(0.87 1)">SRSF2</text>
<path d="M330 204.26 H343.75 M330 202.66 V205.86 M343.75 202.66 V205.86" stroke="#a3213a" stroke-width="1.05" fill="none"/>
<circle cx="337.25" cy="204.26" r="1.65" fill="#a3213a"/>
<path d="M293.25 209.97 H296.25" stroke="#1a1a1a" stroke-width="0.9"/>
<text x="0" y="0" font-size="5.5" text-anchor="end" fill="#333" transform="translate(289.65 211.92) scale(0.87 1)">U2AF1</text>
<path d="M325.5 209.97 H345.25 M325.5 208.37 V211.57 M345.25 208.37 V211.57" stroke="#a3213a" stroke-width="1.05" fill="none"/>
<circle cx="335" cy="209.97" r="1.5" fill="#fff" stroke="#a3213a" stroke-width="0.85"/>
<path d="M293.25 215.68 H296.25" stroke="#1a1a1a" stroke-width="0.9"/>
<text x="0" y="0" font-size="5.5" text-anchor="end" fill="#333" transform="translate(289.65 217.63) scale(0.87 1)">TET2</text>
<path d="M326 215.68 H340.25 M326 214.08 V217.28 M340.25 214.08 V217.28" stroke="#a3213a" stroke-width="1.05" fill="none"/>
<circle cx="333" cy="215.68" r="1.65" fill="#a3213a"/>
<path d="M293.25 221.39 H296.25" stroke="#1a1a1a" stroke-width="0.9"/>
<text x="0" y="0" font-size="5.5" text-anchor="end" fill="#333" transform="translate(289.65 223.34) scale(0.87 1)">SETBP1</text>
<path d="M329 221.39 H345.75 M329 219.79 V222.99 M345.75 219.79 V222.99" stroke="#a3213a" stroke-width="1.05" fill="none"/>
<circle cx="337.5" cy="221.39" r="1.65" fill="#a3213a"/>
<path d="M293.25 227.10 H296.25" stroke="#1a1a1a" stroke-width="0.9"/>
<text x="0" y="0" font-size="5.5" text-anchor="end" fill="#333" transform="translate(289.65 229.05) scale(0.87 1)">EZH2</text>
<path d="M327.25 227.10 H345.25 M327.25 225.50 V228.70 M345.25 225.50 V228.70" stroke="#a3213a" stroke-width="1.05" fill="none"/>
<circle cx="336" cy="227.10" r="1.65" fill="#a3213a"/>
<path d="M293.25 232.81 H296.25" stroke="#1a1a1a" stroke-width="0.9"/>
<text x="0" y="0" font-size="5.5" text-anchor="end" fill="#333" transform="translate(289.65 234.76) scale(0.87 1)">GATA2</text>
<path d="M326 232.81 H344.25 M326 231.21 V234.41 M344.25 231.21 V234.41" stroke="#a3213a" stroke-width="1.05" fill="none"/>
<circle cx="335" cy="232.81" r="1.5" fill="#fff" stroke="#a3213a" stroke-width="0.85"/>
<path d="M293.25 238.52 H296.25" stroke="#1a1a1a" stroke-width="0.9"/>
<text x="0" y="0" font-size="5.5" text-anchor="end" fill="#333" transform="translate(289.65 240.47) scale(0.87 1)">RUNX1</text>
<path d="M318.25 238.52 H338.75 M318.25 236.92 V240.12 M338.75 236.92 V240.12" stroke="#a3213a" stroke-width="1.05" fill="none"/>
<circle cx="328.5" cy="238.52" r="1.65" fill="#a3213a"/>
<path d="M293.25 244.23 H296.25" stroke="#1a1a1a" stroke-width="0.9"/>
<text x="0" y="0" font-size="5.5" text-anchor="end" fill="#333" transform="translate(289.65 246.18) scale(0.87 1)">DNMT3A</text>
<path d="M317.25 244.23 H348.25 M317.25 242.63 V245.83 M348.25 242.63 V245.83" stroke="#a3213a" stroke-width="1.05" fill="none"/>
<circle cx="332.5" cy="244.23" r="1.65" fill="#a3213a"/>
<path d="M293.25 249.94 H296.25" stroke="#1a1a1a" stroke-width="0.9"/>
<text x="0" y="0" font-size="5.5" text-anchor="end" fill="#333" transform="translate(289.65 251.89) scale(0.87 1)">STAG2</text>
<path d="M329 249.94 H366.5 M329 248.34 V251.54 M366.5 248.34 V251.54" stroke="#a3213a" stroke-width="1.05" fill="none"/>
<circle cx="345.25" cy="249.94" r="1.65" fill="#a3213a"/>
<line x1="335.25" y1="166.8" x2="335.25" y2="252.94" stroke="#a0a0a0" stroke-width="0.75" stroke-dasharray="1.3 1.7"/>
<text x="467.50" y="159.10" font-size="8.5" text-anchor="middle" fill="#111" textLength="64.1" lengthAdjust="spacingAndGlyphs" stroke="#111" stroke-width="0.24">Platelet transfusion</text>
<path d="M426.25 165.5 V253.75" stroke="#1a1a1a" stroke-width="1" fill="none"/>
<path d="M425.75 253.75 H508" stroke="#1a1a1a" stroke-width="1" fill="none"/>
<path d="M427.5 253.75 V256.85" stroke="#1a1a1a" stroke-width="0.9"/>
<text x="427.50" y="264.90" font-size="5.6" text-anchor="middle" fill="#222" >-2</text>
<path d="M466 253.75 V256.85" stroke="#1a1a1a" stroke-width="0.9"/>
<text x="466.00" y="264.90" font-size="5.6" text-anchor="middle" fill="#222" >0</text>
<path d="M504.5 253.75 V256.85" stroke="#1a1a1a" stroke-width="0.9"/>
<text x="504.50" y="264.90" font-size="5.6" text-anchor="middle" fill="#222" >2</text>
<path d="M423.25 169.25 H426.25" stroke="#1a1a1a" stroke-width="0.9"/>
<text x="0" y="0" font-size="5.5" text-anchor="end" fill="#333" transform="translate(419.65 171.20) scale(0.87 1)">CSF3R</text>
<path d="M455.5 169.25 H471 M455.5 167.65 V170.85 M471 167.65 V170.85" stroke="#a3213a" stroke-width="1.05" fill="none"/>
<circle cx="463" cy="169.25" r="1.65" fill="#a3213a"/>
<path d="M423.25 174.98 H426.25" stroke="#1a1a1a" stroke-width="0.9"/>
<text x="0" y="0" font-size="5.5" text-anchor="end" fill="#333" transform="translate(419.65 176.93) scale(0.87 1)">NRAS</text>
<path d="M461.5 174.98 H477 M461.5 173.38 V176.58 M477 173.38 V176.58" stroke="#a3213a" stroke-width="1.05" fill="none"/>
<circle cx="469.25" cy="174.98" r="1.65" fill="#a3213a"/>
<path d="M423.25 180.71 H426.25" stroke="#1a1a1a" stroke-width="0.9"/>
<text x="0" y="0" font-size="5.5" text-anchor="end" fill="#333" transform="translate(419.65 182.66) scale(0.87 1)">JAK2</text>
<path d="M453.5 180.71 H477.5 M453.5 179.11 V182.31 M477.5 179.11 V182.31" stroke="#a3213a" stroke-width="1.05" fill="none"/>
<circle cx="465.5" cy="180.71" r="1.65" fill="#a3213a"/>
<path d="M423.25 186.44 H426.25" stroke="#1a1a1a" stroke-width="0.9"/>
<text x="0" y="0" font-size="5.5" text-anchor="end" fill="#333" transform="translate(419.65 188.39) scale(0.87 1)">CBL</text>
<path d="M451.25 186.44 H474.75 M451.25 184.84 V188.04 M474.75 184.84 V188.04" stroke="#a3213a" stroke-width="1.05" fill="none"/>
<circle cx="463" cy="186.44" r="1.65" fill="#a3213a"/>
<path d="M423.25 192.17 H426.25" stroke="#1a1a1a" stroke-width="0.9"/>
<text x="0" y="0" font-size="5.5" text-anchor="end" fill="#333" transform="translate(419.65 194.12) scale(0.87 1)">PTPN11</text>
<path d="M451.25 192.17 H480.25 M451.25 190.57 V193.77 M480.25 190.57 V193.77" stroke="#a3213a" stroke-width="1.05" fill="none"/>
<circle cx="465.25" cy="192.17" r="1.65" fill="#a3213a"/>
<path d="M423.25 197.90 H426.25" stroke="#1a1a1a" stroke-width="0.9"/>
<text x="0" y="0" font-size="5.5" text-anchor="end" fill="#333" transform="translate(419.65 199.85) scale(0.87 1)">ASXL1</text>
<path d="M466.75 197.90 H483.25 M466.75 196.30 V199.50 M483.25 196.30 V199.50" stroke="#a3213a" stroke-width="1.05" fill="none"/>
<circle cx="475" cy="197.90" r="1.5" fill="#fff" stroke="#a3213a" stroke-width="0.85"/>
<path d="M423.25 203.63 H426.25" stroke="#1a1a1a" stroke-width="0.9"/>
<text x="0" y="0" font-size="5.5" text-anchor="end" fill="#333" transform="translate(419.65 205.58) scale(0.87 1)">SRSF2</text>
<path d="M460.75 203.63 H474.25 M460.75 202.03 V205.23 M474.25 202.03 V205.23" stroke="#a3213a" stroke-width="1.05" fill="none"/>
<circle cx="467.5" cy="203.63" r="1.65" fill="#a3213a"/>
<path d="M423.25 209.36 H426.25" stroke="#1a1a1a" stroke-width="0.9"/>
<text x="0" y="0" font-size="5.5" text-anchor="end" fill="#333" transform="translate(419.65 211.31) scale(0.87 1)">U2AF1</text>
<path d="M461.5 209.36 H480.25 M461.5 207.76 V210.96 M480.25 207.76 V210.96" stroke="#a3213a" stroke-width="1.05" fill="none"/>
<circle cx="470.75" cy="209.36" r="1.65" fill="#a3213a"/>
<path d="M423.25 215.09 H426.25" stroke="#1a1a1a" stroke-width="0.9"/>
<text x="0" y="0" font-size="5.5" text-anchor="end" fill="#333" transform="translate(419.65 217.04) scale(0.87 1)">TET2</text>
<path d="M466.25 215.09 H479.25 M466.25 213.49 V216.69 M479.25 213.49 V216.69" stroke="#a3213a" stroke-width="1.05" fill="none"/>
<circle cx="472.5" cy="215.09" r="1.65" fill="#a3213a"/>
<path d="M423.25 220.82 H426.25" stroke="#1a1a1a" stroke-width="0.9"/>
<text x="0" y="0" font-size="5.5" text-anchor="end" fill="#333" transform="translate(419.65 222.77) scale(0.87 1)">SETBP1</text>
<path d="M457 220.82 H472.5 M457 219.22 V222.42 M472.5 219.22 V222.42" stroke="#a3213a" stroke-width="1.05" fill="none"/>
<circle cx="464.5" cy="220.82" r="1.65" fill="#a3213a"/>
<path d="M423.25 226.55 H426.25" stroke="#1a1a1a" stroke-width="0.9"/>
<text x="0" y="0" font-size="5.5" text-anchor="end" fill="#333" transform="translate(419.65 228.50) scale(0.87 1)">EZH2</text>
<path d="M458 226.55 H474.25 M458 224.95 V228.15 M474.25 224.95 V228.15" stroke="#a3213a" stroke-width="1.05" fill="none"/>
<circle cx="466.25" cy="226.55" r="1.65" fill="#a3213a"/>
<path d="M423.25 232.28 H426.25" stroke="#1a1a1a" stroke-width="0.9"/>
<text x="0" y="0" font-size="5.5" text-anchor="end" fill="#333" transform="translate(419.65 234.23) scale(0.87 1)">GATA2</text>
<path d="M459.25 232.28 H476.25 M459.25 230.68 V233.88 M476.25 230.68 V233.88" stroke="#a3213a" stroke-width="1.05" fill="none"/>
<circle cx="467.5" cy="232.28" r="1.65" fill="#a3213a"/>
<path d="M423.25 238.01 H426.25" stroke="#1a1a1a" stroke-width="0.9"/>
<text x="0" y="0" font-size="5.5" text-anchor="end" fill="#333" transform="translate(419.65 239.96) scale(0.87 1)">RUNX1</text>
<path d="M468.25 238.01 H489.25 M468.25 236.41 V239.61 M489.25 236.41 V239.61" stroke="#a3213a" stroke-width="1.05" fill="none"/>
<circle cx="478.5" cy="238.01" r="1.5" fill="#fff" stroke="#a3213a" stroke-width="0.85"/>
<path d="M423.25 243.74 H426.25" stroke="#1a1a1a" stroke-width="0.9"/>
<text x="0" y="0" font-size="5.5" text-anchor="end" fill="#333" transform="translate(419.65 245.69) scale(0.87 1)">DNMT3A</text>
<path d="M465.5 243.74 H502.5 M465.5 242.14 V245.34 M502.5 242.14 V245.34" stroke="#a3213a" stroke-width="1.05" fill="none"/>
<circle cx="483.75" cy="243.74" r="1.65" fill="#a3213a"/>
<path d="M423.25 249.47 H426.25" stroke="#1a1a1a" stroke-width="0.9"/>
<text x="0" y="0" font-size="5.5" text-anchor="end" fill="#333" transform="translate(419.65 251.42) scale(0.87 1)">STAG2</text>
<path d="M455.5 249.47 H479.25 M455.5 247.87 V251.07 M479.25 247.87 V251.07" stroke="#a3213a" stroke-width="1.05" fill="none"/>
<circle cx="467" cy="249.47" r="1.65" fill="#a3213a"/>
<line x1="466" y1="229" x2="466" y2="252.47" stroke="#a0a0a0" stroke-width="0.75" stroke-dasharray="1.3 1.7"/>
<text x="79.75" y="289.00" font-size="8.5" text-anchor="middle" fill="#111" textLength="39.1" lengthAdjust="spacingAndGlyphs" stroke="#111" stroke-width="0.24">Thrombosis</text>
<path d="M38 296.3 V384" stroke="#1a1a1a" stroke-width="1" fill="none"/>
<path d="M37.5 384 H120.75" stroke="#1a1a1a" stroke-width="1" fill="none"/>
<path d="M38 384 V387.1" stroke="#1a1a1a" stroke-width="0.9"/>
<text x="38.00" y="395.10" font-size="5.6" text-anchor="middle" fill="#222" >-2</text>
<path d="M57.75 384 V387.1" stroke="#1a1a1a" stroke-width="0.9"/>
<text x="57.75" y="395.10" font-size="5.6" text-anchor="middle" fill="#222" >-1</text>
<path d="M77.25 384 V387.1" stroke="#1a1a1a" stroke-width="0.9"/>
<text x="77.25" y="395.10" font-size="5.6" text-anchor="middle" fill="#222" >0</text>
<path d="M97 384 V387.1" stroke="#1a1a1a" stroke-width="0.9"/>
<text x="97.00" y="395.10" font-size="5.6" text-anchor="middle" fill="#222" >1</text>
<path d="M116.5 384 V387.1" stroke="#1a1a1a" stroke-width="0.9"/>
<text x="116.50" y="395.10" font-size="5.6" text-anchor="middle" fill="#222" >2</text>
<path d="M35 300.00 H38" stroke="#1a1a1a" stroke-width="0.9"/>
<text x="0" y="0" font-size="5.5" text-anchor="end" fill="#333" transform="translate(31.40 301.95) scale(0.87 1)">CSF3R</text>
<path d="M65.5 300.00 H95.5 M65.5 298.40 V301.60 M95.5 298.40 V301.60" stroke="#a3213a" stroke-width="1.05" fill="none"/>
<circle cx="80.5" cy="300.00" r="1.65" fill="#a3213a"/>
<path d="M35 306.15 H38" stroke="#1a1a1a" stroke-width="0.9"/>
<text x="0" y="0" font-size="5.5" text-anchor="end" fill="#333" transform="translate(31.40 308.10) scale(0.87 1)">NRAS</text>
<path d="M68 306.15 H98.25 M68 304.55 V307.75 M98.25 304.55 V307.75" stroke="#a3213a" stroke-width="1.05" fill="none"/>
<circle cx="83.25" cy="306.15" r="1.65" fill="#a3213a"/>
<path d="M35 312.30 H38" stroke="#1a1a1a" stroke-width="0.9"/>
<text x="0" y="0" font-size="5.5" text-anchor="end" fill="#333" transform="translate(31.40 314.25) scale(0.87 1)">JAK2</text>
<path d="M78.5 312.30 H110.25 M78.5 310.70 V313.90 M110.25 310.70 V313.90" stroke="#a3213a" stroke-width="1.05" fill="none"/>
<circle cx="94" cy="312.30" r="1.5" fill="#fff" stroke="#a3213a" stroke-width="0.85"/>
<path d="M35 318.45 H38" stroke="#1a1a1a" stroke-width="0.9"/>
<text x="0" y="0" font-size="5.5" text-anchor="end" fill="#333" transform="translate(31.40 320.40) scale(0.87 1)">CBL</text>
<path d="M64.5 318.45 H102.25 M64.5 316.85 V320.05 M102.25 316.85 V320.05" stroke="#a3213a" stroke-width="1.05" fill="none"/>
<circle cx="83.25" cy="318.45" r="1.65" fill="#a3213a"/>
<path d="M35 324.60 H38" stroke="#1a1a1a" stroke-width="0.9"/>
<text x="0" y="0" font-size="5.5" text-anchor="end" fill="#333" transform="translate(31.40 326.55) scale(0.87 1)">PTPN11</text>
<path d="M52.25 324.60 H103.5 M52.25 323.00 V326.20 M103.5 323.00 V326.20" stroke="#a3213a" stroke-width="1.05" fill="none"/>
<circle cx="77.5" cy="324.60" r="1.5" fill="#fff" stroke="#a3213a" stroke-width="0.85"/>
<path d="M35 330.75 H38" stroke="#1a1a1a" stroke-width="0.9"/>
<text x="0" y="0" font-size="5.5" text-anchor="end" fill="#333" transform="translate(31.40 332.70) scale(0.87 1)">ASXL1</text>
<path d="M64.5 330.75 H101.25 M64.5 329.15 V332.35 M101.25 329.15 V332.35" stroke="#a3213a" stroke-width="1.05" fill="none"/>
<circle cx="83" cy="330.75" r="1.65" fill="#a3213a"/>
<path d="M35 336.90 H38" stroke="#1a1a1a" stroke-width="0.9"/>
<text x="0" y="0" font-size="5.5" text-anchor="end" fill="#333" transform="translate(31.40 338.85) scale(0.87 1)">SRSF2</text>
<path d="M73 336.90 H103 M73 335.30 V338.50 M103 335.30 V338.50" stroke="#a3213a" stroke-width="1.05" fill="none"/>
<circle cx="88" cy="336.90" r="1.65" fill="#a3213a"/>
<path d="M35 343.05 H38" stroke="#1a1a1a" stroke-width="0.9"/>
<text x="0" y="0" font-size="5.5" text-anchor="end" fill="#333" transform="translate(31.40 345.00) scale(0.87 1)">U2AF1</text>
<path d="M46 343.05 H96 M46 341.45 V344.65 M96 341.45 V344.65" stroke="#a3213a" stroke-width="1.05" fill="none"/>
<circle cx="71" cy="343.05" r="1.65" fill="#a3213a"/>
<path d="M35 349.20 H38" stroke="#1a1a1a" stroke-width="0.9"/>
<text x="0" y="0" font-size="5.5" text-anchor="end" fill="#333" transform="translate(31.40 351.15) scale(0.87 1)">TET2</text>
<path d="M68.5 349.20 H96.25 M68.5 347.60 V350.80 M96.25 347.60 V350.80" stroke="#a3213a" stroke-width="1.05" fill="none"/>
<circle cx="82.5" cy="349.20" r="1.65" fill="#a3213a"/>
<path d="M35 355.35 H38" stroke="#1a1a1a" stroke-width="0.9"/>
<text x="0" y="0" font-size="5.5" text-anchor="end" fill="#333" transform="translate(31.40 357.30) scale(0.87 1)">SETBP1</text>
<path d="M55.5 355.35 H92.5 M55.5 353.75 V356.95 M92.5 353.75 V356.95" stroke="#a3213a" stroke-width="1.05" fill="none"/>
<circle cx="74" cy="355.35" r="1.65" fill="#a3213a"/>
<path d="M35 361.50 H38" stroke="#1a1a1a" stroke-width="0.9"/>
<text x="0" y="0" font-size="5.5" text-anchor="end" fill="#333" transform="translate(31.40 363.45) scale(0.87 1)">EZH2</text>
<path d="M56.5 361.50 H93.25 M56.5 359.90 V363.10 M93.25 359.90 V363.10" stroke="#a3213a" stroke-width="1.05" fill="none"/>
<circle cx="74.75" cy="361.50" r="1.65" fill="#a3213a"/>
<path d="M35 367.65 H38" stroke="#1a1a1a" stroke-width="0.9"/>
<text x="0" y="0" font-size="5.5" text-anchor="end" fill="#333" transform="translate(31.40 369.60) scale(0.87 1)">GATA2</text>
<path d="M44.5 367.65 H94 M44.5 366.05 V369.25 M94 366.05 V369.25" stroke="#a3213a" stroke-width="1.05" fill="none"/>
<circle cx="69.25" cy="367.65" r="1.65" fill="#a3213a"/>
<path d="M35 373.80 H38" stroke="#1a1a1a" stroke-width="0.9"/>
<text x="0" y="0" font-size="5.5" text-anchor="end" fill="#333" transform="translate(31.40 375.75) scale(0.87 1)">RUNX1</text>
<path d="M47.5 373.80 H97.5 M47.5 372.20 V375.40 M97.5 372.20 V375.40" stroke="#a3213a" stroke-width="1.05" fill="none"/>
<circle cx="72.25" cy="373.80" r="1.65" fill="#a3213a"/>
<path d="M35 379.95 H38" stroke="#1a1a1a" stroke-width="0.9"/>
<text x="0" y="0" font-size="5.5" text-anchor="end" fill="#333" transform="translate(31.40 381.90) scale(0.87 1)">DNMT3A</text>
<path d="M55.25 379.95 H106.5 M55.25 378.35 V381.55 M106.5 378.35 V381.55" stroke="#a3213a" stroke-width="1.05" fill="none"/>
<circle cx="80.5" cy="379.95" r="1.65" fill="#a3213a"/>
<line x1="77.25" y1="324.5" x2="77.25" y2="382.95" stroke="#a0a0a0" stroke-width="0.75" stroke-dasharray="1.3 1.7"/>
<text x="209.40" y="289.00" font-size="8.5" text-anchor="middle" fill="#111" textLength="70.35" lengthAdjust="spacingAndGlyphs" stroke="#111" stroke-width="0.24">Major Bleeding event</text>
<path d="M168 296.3 V384" stroke="#1a1a1a" stroke-width="1" fill="none"/>
<path d="M167.5 384 H250.75" stroke="#1a1a1a" stroke-width="1" fill="none"/>
<path d="M169.25 384 V387.1" stroke="#1a1a1a" stroke-width="0.9"/>
<text x="169.25" y="395.10" font-size="5.6" text-anchor="middle" fill="#222" >-2</text>
<path d="M189 384 V387.1" stroke="#1a1a1a" stroke-width="0.9"/>
<text x="189.00" y="395.10" font-size="5.6" text-anchor="middle" fill="#222" >-1</text>
<path d="M208.5 384 V387.1" stroke="#1a1a1a" stroke-width="0.9"/>
<text x="208.50" y="395.10" font-size="5.6" text-anchor="middle" fill="#222" >0</text>
<path d="M227.5 384 V387.1" stroke="#1a1a1a" stroke-width="0.9"/>
<text x="227.50" y="395.10" font-size="5.6" text-anchor="middle" fill="#222" >1</text>
<path d="M246.5 384 V387.1" stroke="#1a1a1a" stroke-width="0.9"/>
<text x="246.50" y="395.10" font-size="5.6" text-anchor="middle" fill="#222" >2</text>
<path d="M165 300.00 H168" stroke="#1a1a1a" stroke-width="0.9"/>
<text x="0" y="0" font-size="5.5" text-anchor="end" fill="#333" transform="translate(161.40 301.95) scale(0.87 1)">CSF3R</text>
<path d="M201.75 300.00 H223.75 M201.75 298.40 V301.60 M223.75 298.40 V301.60" stroke="#a3213a" stroke-width="1.05" fill="none"/>
<circle cx="212.75" cy="300.00" r="1.65" fill="#a3213a"/>
<path d="M165 305.73 H168" stroke="#1a1a1a" stroke-width="0.9"/>
<text x="0" y="0" font-size="5.5" text-anchor="end" fill="#333" transform="translate(161.40 307.68) scale(0.87 1)">NRAS</text>
<path d="M193.75 305.73 H220.5 M193.75 304.13 V307.33 M220.5 304.13 V307.33" stroke="#a3213a" stroke-width="1.05" fill="none"/>
<circle cx="206.75" cy="305.73" r="1.65" fill="#a3213a"/>
<path d="M165 311.46 H168" stroke="#1a1a1a" stroke-width="0.9"/>
<text x="0" y="0" font-size="5.5" text-anchor="end" fill="#333" transform="translate(161.40 313.41) scale(0.87 1)">JAK2</text>
<path d="M177.25 311.46 H225.25 M177.25 309.86 V313.06 M225.25 309.86 V313.06" stroke="#a3213a" stroke-width="1.05" fill="none"/>
<circle cx="201" cy="311.46" r="1.65" fill="#a3213a"/>
<path d="M165 317.19 H168" stroke="#1a1a1a" stroke-width="0.9"/>
<text x="0" y="0" font-size="5.5" text-anchor="end" fill="#333" transform="translate(161.40 319.14) scale(0.87 1)">CBL</text>
<path d="M189.25 317.19 H225.75 M189.25 315.59 V318.79 M225.75 315.59 V318.79" stroke="#a3213a" stroke-width="1.05" fill="none"/>
<circle cx="207.25" cy="317.19" r="1.65" fill="#a3213a"/>
<path d="M165 322.92 H168" stroke="#1a1a1a" stroke-width="0.9"/>
<text x="0" y="0" font-size="5.5" text-anchor="end" fill="#333" transform="translate(161.40 324.87) scale(0.87 1)">PTPN11</text>
<path d="M178.75 322.92 H228 M178.75 321.32 V324.52 M228 321.32 V324.52" stroke="#a3213a" stroke-width="1.05" fill="none"/>
<circle cx="203.25" cy="322.92" r="1.65" fill="#a3213a"/>
<path d="M165 328.65 H168" stroke="#1a1a1a" stroke-width="0.9"/>
<text x="0" y="0" font-size="5.5" text-anchor="end" fill="#333" transform="translate(161.40 330.60) scale(0.87 1)">ASXL1</text>
<path d="M202.75 328.65 H237.75 M202.75 327.05 V330.25 M237.75 327.05 V330.25" stroke="#a3213a" stroke-width="1.05" fill="none"/>
<circle cx="220.25" cy="328.65" r="1.65" fill="#a3213a"/>
<path d="M165 334.38 H168" stroke="#1a1a1a" stroke-width="0.9"/>
<text x="0" y="0" font-size="5.5" text-anchor="end" fill="#333" transform="translate(161.40 336.33) scale(0.87 1)">SRSF2</text>
<path d="M200.5 334.38 H221.25 M200.5 332.78 V335.98 M221.25 332.78 V335.98" stroke="#a3213a" stroke-width="1.05" fill="none"/>
<circle cx="210.75" cy="334.38" r="1.65" fill="#a3213a"/>
<path d="M165 340.11 H168" stroke="#1a1a1a" stroke-width="0.9"/>
<text x="0" y="0" font-size="5.5" text-anchor="end" fill="#333" transform="translate(161.40 342.06) scale(0.87 1)">U2AF1</text>
<path d="M198 340.11 H225.25 M198 338.51 V341.71 M225.25 338.51 V341.71" stroke="#a3213a" stroke-width="1.05" fill="none"/>
<circle cx="212" cy="340.11" r="1.65" fill="#a3213a"/>
<path d="M165 345.84 H168" stroke="#1a1a1a" stroke-width="0.9"/>
<text x="0" y="0" font-size="5.5" text-anchor="end" fill="#333" transform="translate(161.40 347.79) scale(0.87 1)">TET2</text>
<path d="M208.5 345.84 H230 M208.5 344.24 V347.44 M230 344.24 V347.44" stroke="#a3213a" stroke-width="1.05" fill="none"/>
<circle cx="219" cy="345.84" r="1.5" fill="#fff" stroke="#a3213a" stroke-width="0.85"/>
<path d="M165 351.57 H168" stroke="#1a1a1a" stroke-width="0.9"/>
<text x="0" y="0" font-size="5.5" text-anchor="end" fill="#333" transform="translate(161.40 353.52) scale(0.87 1)">SETBP1</text>
<path d="M192.25 351.57 H219.25 M192.25 349.97 V353.17 M219.25 349.97 V353.17" stroke="#a3213a" stroke-width="1.05" fill="none"/>
<circle cx="205" cy="351.57" r="1.65" fill="#a3213a"/>
<path d="M165 357.30 H168" stroke="#1a1a1a" stroke-width="0.9"/>
<text x="0" y="0" font-size="5.5" text-anchor="end" fill="#333" transform="translate(161.40 359.25) scale(0.87 1)">EZH2</text>
<path d="M200.75 357.30 H224.25 M200.75 355.70 V358.90 M224.25 355.70 V358.90" stroke="#a3213a" stroke-width="1.05" fill="none"/>
<circle cx="212.5" cy="357.30" r="1.65" fill="#a3213a"/>
<path d="M165 363.03 H168" stroke="#1a1a1a" stroke-width="0.9"/>
<text x="0" y="0" font-size="5.5" text-anchor="end" fill="#333" transform="translate(161.40 364.98) scale(0.87 1)">GATA2</text>
<path d="M170.75 363.03 H219.5 M170.75 361.43 V364.63 M219.5 361.43 V364.63" stroke="#a3213a" stroke-width="1.05" fill="none"/>
<circle cx="195" cy="363.03" r="1.65" fill="#a3213a"/>
<path d="M165 368.76 H168" stroke="#1a1a1a" stroke-width="0.9"/>
<text x="0" y="0" font-size="5.5" text-anchor="end" fill="#333" transform="translate(161.40 370.71) scale(0.87 1)">RUNX1</text>
<path d="M175.25 368.76 H223.5 M175.25 367.16 V370.36 M223.5 367.16 V370.36" stroke="#a3213a" stroke-width="1.05" fill="none"/>
<circle cx="199.5" cy="368.76" r="1.65" fill="#a3213a"/>
<path d="M165 374.49 H168" stroke="#1a1a1a" stroke-width="0.9"/>
<text x="0" y="0" font-size="5.5" text-anchor="end" fill="#333" transform="translate(161.40 376.44) scale(0.87 1)">DNMT3A</text>
<path d="M181.75 374.49 H231.25 M181.75 372.89 V376.09 M231.25 372.89 V376.09" stroke="#a3213a" stroke-width="1.05" fill="none"/>
<circle cx="205.5" cy="374.49" r="1.65" fill="#a3213a"/>
<path d="M165 380.22 H168" stroke="#1a1a1a" stroke-width="0.9"/>
<text x="0" y="0" font-size="5.5" text-anchor="end" fill="#333" transform="translate(161.40 382.17) scale(0.87 1)">STAG2</text>
<path d="M190 380.22 H227.5 M190 378.62 V381.82 M227.5 378.62 V381.82" stroke="#a3213a" stroke-width="1.05" fill="none"/>
<circle cx="210.75" cy="380.22" r="1.65" fill="#a3213a"/>
<line x1="208.5" y1="297.3" x2="208.5" y2="383.22" stroke="#a0a0a0" stroke-width="0.75" stroke-dasharray="1.3 1.7"/>
<text x="341.90" y="289.00" font-size="8.5" text-anchor="middle" fill="#111" textLength="42.85" lengthAdjust="spacingAndGlyphs" stroke="#111" stroke-width="0.24">BM dysplasia</text>
<path d="M300 296 V384" stroke="#1a1a1a" stroke-width="1" fill="none"/>
<path d="M299.5 384 H383.75" stroke="#1a1a1a" stroke-width="1" fill="none"/>
<path d="M300 384 V387.1" stroke="#1a1a1a" stroke-width="0.9"/>
<text x="300.00" y="395.10" font-size="5.6" text-anchor="middle" fill="#222" >-2</text>
<path d="M320 384 V387.1" stroke="#1a1a1a" stroke-width="0.9"/>
<text x="320.00" y="395.10" font-size="5.6" text-anchor="middle" fill="#222" >-1</text>
<path d="M340 384 V387.1" stroke="#1a1a1a" stroke-width="0.9"/>
<text x="340.00" y="395.10" font-size="5.6" text-anchor="middle" fill="#222" >0</text>
<path d="M360 384 V387.1" stroke="#1a1a1a" stroke-width="0.9"/>
<text x="360.00" y="395.10" font-size="5.6" text-anchor="middle" fill="#222" >1</text>
<path d="M380 384 V387.1" stroke="#1a1a1a" stroke-width="0.9"/>
<text x="380.00" y="395.10" font-size="5.6" text-anchor="middle" fill="#222" >2</text>
<path d="M297 299.25 H300" stroke="#1a1a1a" stroke-width="0.9"/>
<text x="0" y="0" font-size="5.5" text-anchor="end" fill="#333" transform="translate(293.40 301.20) scale(0.87 1)">CSF3R</text>
<path d="M328.5 299.25 H343.25 M328.5 297.65 V300.85 M343.25 297.65 V300.85" stroke="#a3213a" stroke-width="1.05" fill="none"/>
<circle cx="336" cy="299.25" r="1.65" fill="#a3213a"/>
<path d="M297 305.02 H300" stroke="#1a1a1a" stroke-width="0.9"/>
<text x="0" y="0" font-size="5.5" text-anchor="end" fill="#333" transform="translate(293.40 306.97) scale(0.87 1)">NRAS</text>
<path d="M338.75 305.02 H356.5 M338.75 303.42 V306.62 M356.5 303.42 V306.62" stroke="#a3213a" stroke-width="1.05" fill="none"/>
<circle cx="347.5" cy="305.02" r="1.65" fill="#a3213a"/>
<path d="M297 310.79 H300" stroke="#1a1a1a" stroke-width="0.9"/>
<text x="0" y="0" font-size="5.5" text-anchor="end" fill="#333" transform="translate(293.40 312.74) scale(0.87 1)">JAK2</text>
<path d="M321.75 310.79 H349 M321.75 309.19 V312.39 M349 309.19 V312.39" stroke="#a3213a" stroke-width="1.05" fill="none"/>
<circle cx="335.25" cy="310.79" r="1.65" fill="#a3213a"/>
<path d="M297 316.56 H300" stroke="#1a1a1a" stroke-width="0.9"/>
<text x="0" y="0" font-size="5.5" text-anchor="end" fill="#333" transform="translate(293.40 318.51) scale(0.87 1)">CBL</text>
<path d="M336.25 316.56 H360 M336.25 314.96 V318.16 M360 314.96 V318.16" stroke="#a3213a" stroke-width="1.05" fill="none"/>
<circle cx="348" cy="316.56" r="1.65" fill="#a3213a"/>
<path d="M297 322.33 H300" stroke="#1a1a1a" stroke-width="0.9"/>
<text x="0" y="0" font-size="5.5" text-anchor="end" fill="#333" transform="translate(293.40 324.28) scale(0.87 1)">PTPN11</text>
<path d="M318.5 322.33 H350.25 M318.5 320.73 V323.93 M350.25 320.73 V323.93" stroke="#a3213a" stroke-width="1.05" fill="none"/>
<circle cx="334" cy="322.33" r="1.65" fill="#a3213a"/>
<path d="M297 328.10 H300" stroke="#1a1a1a" stroke-width="0.9"/>
<text x="0" y="0" font-size="5.5" text-anchor="end" fill="#333" transform="translate(293.40 330.05) scale(0.87 1)">ASXL1</text>
<path d="M333 328.10 H348.25 M333 326.50 V329.70 M348.25 326.50 V329.70" stroke="#a3213a" stroke-width="1.05" fill="none"/>
<circle cx="340.75" cy="328.10" r="1.65" fill="#a3213a"/>
<path d="M297 333.87 H300" stroke="#1a1a1a" stroke-width="0.9"/>
<text x="0" y="0" font-size="5.5" text-anchor="end" fill="#333" transform="translate(293.40 335.82) scale(0.87 1)">SRSF2</text>
<path d="M341.25 333.87 H355 M341.25 332.27 V335.47 M355 332.27 V335.47" stroke="#a3213a" stroke-width="1.05" fill="none"/>
<circle cx="348.25" cy="333.87" r="1.5" fill="#fff" stroke="#a3213a" stroke-width="0.85"/>
<path d="M297 339.64 H300" stroke="#1a1a1a" stroke-width="0.9"/>
<text x="0" y="0" font-size="5.5" text-anchor="end" fill="#333" transform="translate(293.40 341.59) scale(0.87 1)">U2AF1</text>
<path d="M327 339.64 H345.5 M327 338.04 V341.24 M345.5 338.04 V341.24" stroke="#a3213a" stroke-width="1.05" fill="none"/>
<circle cx="336.25" cy="339.64" r="1.65" fill="#a3213a"/>
<path d="M297 345.41 H300" stroke="#1a1a1a" stroke-width="0.9"/>
<text x="0" y="0" font-size="5.5" text-anchor="end" fill="#333" transform="translate(293.40 347.36) scale(0.87 1)">TET2</text>
<path d="M341 345.41 H355.75 M341 343.81 V347.01 M355.75 343.81 V347.01" stroke="#a3213a" stroke-width="1.05" fill="none"/>
<circle cx="348.25" cy="345.41" r="1.5" fill="#fff" stroke="#a3213a" stroke-width="0.85"/>
<path d="M297 351.18 H300" stroke="#1a1a1a" stroke-width="0.9"/>
<text x="0" y="0" font-size="5.5" text-anchor="end" fill="#333" transform="translate(293.40 353.13) scale(0.87 1)">SETBP1</text>
<path d="M329.25 351.18 H345.5 M329.25 349.58 V352.78 M345.5 349.58 V352.78" stroke="#a3213a" stroke-width="1.05" fill="none"/>
<circle cx="337.5" cy="351.18" r="1.65" fill="#a3213a"/>
<path d="M297 356.95 H300" stroke="#1a1a1a" stroke-width="0.9"/>
<text x="0" y="0" font-size="5.5" text-anchor="end" fill="#333" transform="translate(293.40 358.90) scale(0.87 1)">EZH2</text>
<path d="M337.75 356.95 H354.25 M337.75 355.35 V358.55 M354.25 355.35 V358.55" stroke="#a3213a" stroke-width="1.05" fill="none"/>
<circle cx="346" cy="356.95" r="1.65" fill="#a3213a"/>
<path d="M297 362.72 H300" stroke="#1a1a1a" stroke-width="0.9"/>
<text x="0" y="0" font-size="5.5" text-anchor="end" fill="#333" transform="translate(293.40 364.67) scale(0.87 1)">GATA2</text>
<path d="M334.25 362.72 H353.25 M334.25 361.12 V364.32 M353.25 361.12 V364.32" stroke="#a3213a" stroke-width="1.05" fill="none"/>
<circle cx="344" cy="362.72" r="1.65" fill="#a3213a"/>
<path d="M297 368.49 H300" stroke="#1a1a1a" stroke-width="0.9"/>
<text x="0" y="0" font-size="5.5" text-anchor="end" fill="#333" transform="translate(293.40 370.44) scale(0.87 1)">RUNX1</text>
<path d="M338.75 368.49 H366 M338.75 366.89 V370.09 M366 366.89 V370.09" stroke="#a3213a" stroke-width="1.05" fill="none"/>
<circle cx="352.5" cy="368.49" r="1.65" fill="#a3213a"/>
<path d="M297 374.26 H300" stroke="#1a1a1a" stroke-width="0.9"/>
<text x="0" y="0" font-size="5.5" text-anchor="end" fill="#333" transform="translate(293.40 376.21) scale(0.87 1)">DNMT3A</text>
<path d="M333.25 374.26 H371.25 M333.25 372.66 V375.86 M371.25 372.66 V375.86" stroke="#a3213a" stroke-width="1.05" fill="none"/>
<circle cx="352.5" cy="374.26" r="1.65" fill="#a3213a"/>
<path d="M297 380.03 H300" stroke="#1a1a1a" stroke-width="0.9"/>
<text x="0" y="0" font-size="5.5" text-anchor="end" fill="#333" transform="translate(293.40 381.98) scale(0.87 1)">STAG2</text>
<path d="M332.25 380.03 H361 M332.25 378.43 V381.63 M361 378.43 V381.63" stroke="#a3213a" stroke-width="1.05" fill="none"/>
<circle cx="346.5" cy="380.03" r="1.65" fill="#a3213a"/>
<line x1="340" y1="297" x2="340" y2="383.03" stroke="#a0a0a0" stroke-width="0.75" stroke-dasharray="1.3 1.7"/>
<path d="M38.25 422.5 V502.25 H126" stroke="#1a1a1a" stroke-width="1" fill="none"/>
<path d="M35.25 427.00 H38.25" stroke="#1a1a1a" stroke-width="0.9"/>
<text x="31.95" y="429.00" font-size="5.6" text-anchor="end" fill="#222" >100</text>
<path d="M35.25 464.62 H38.25" stroke="#1a1a1a" stroke-width="0.9"/>
<text x="31.95" y="466.62" font-size="5.6" text-anchor="end" fill="#222" >50</text>
<path d="M35.25 502.25 H38.25" stroke="#1a1a1a" stroke-width="0.9"/>
<text x="31.95" y="504.25" font-size="5.6" text-anchor="end" fill="#222" >0</text>
<path d="M38.25 502.25 V504.85" stroke="#1a1a1a" stroke-width="0.9"/>
<text x="38.25" y="514.25" font-size="5.2" text-anchor="middle" fill="#2a2a2a" >0</text>
<path d="M59.00 502.25 V504.85" stroke="#1a1a1a" stroke-width="0.9"/>
<text x="59.00" y="514.25" font-size="5.2" text-anchor="middle" fill="#2a2a2a" >1000</text>
<path d="M79.75 502.25 V504.85" stroke="#1a1a1a" stroke-width="0.9"/>
<text x="79.75" y="514.25" font-size="5.2" text-anchor="middle" fill="#2a2a2a" >2000</text>
<path d="M100.50 502.25 V504.85" stroke="#1a1a1a" stroke-width="0.9"/>
<text x="100.50" y="514.25" font-size="5.2" text-anchor="middle" fill="#2a2a2a" >3000</text>
<path d="M121.25 502.25 V504.85" stroke="#1a1a1a" stroke-width="0.9"/>
<text x="121.25" y="514.25" font-size="5.2" text-anchor="middle" fill="#2a2a2a" >4000</text>
<text x="81.75" y="524.75" font-size="7.4" text-anchor="middle" fill="#111" stroke="#111" stroke-width="0.15">Days</text>
<text x="0" y="0" font-size="7.6" text-anchor="middle" fill="#111" stroke="#111" stroke-width="0.15" textLength="38.8" lengthAdjust="spacingAndGlyphs" transform="translate(16.45 462.57) rotate(-90)">Survival (%)</text>
<path d="M38.25 427.00 L39.49 427.00 L39.49 427.75 L40.70 427.75 L40.70 428.77 L41.90 428.77 L41.90 429.78 L43.35 429.78 L43.35 431.55 L44.81 431.55 L44.81 433.32 L45.66 433.32 L45.66 434.75 L46.51 434.75 L46.51 436.18 L46.71 436.18 L46.71 437.71 L46.91 437.71 L46.91 439.24 L47.11 439.24 L47.11 440.77 L47.40 440.77 L47.40 442.50 L47.69 442.50 L47.69 444.23 L48.06 444.23 L48.06 445.76 L48.42 445.76 L48.42 447.29 L48.79 447.29 L48.79 448.82 L49.99 448.82 L49.99 450.55 L51.20 450.55 L51.20 452.28 L52.60 452.28 L52.60 453.75 L54.00 453.75 L54.00 455.22 L55.80 455.22 L55.80 456.87 L57.51 456.87 L57.51 456.35 L58.71 456.35 L58.71 458.00 L59.26 458.00 L59.26 459.73 L59.81 459.73 L59.81 461.46 L60.20 461.46 L60.20 462.84 L60.60 462.84 L60.60 464.22 L60.99 464.22 L60.99 465.60 L69.00 465.60 L69.00 468.99 L94.40 468.99 L94.40 477.12 L124.36 477.12" stroke="#a8283e" stroke-width="0.95" fill="none" stroke-linejoin="round"/>
<path d="M62.11 464.20 V465.60 M63.77 464.20 V465.60 M65.22 464.20 V465.60 M67.72 464.20 V465.60 M71.45 467.59 V468.99 M73.53 467.59 V468.99 M76.64 467.59 V468.99 M79.75 467.59 V468.99 M88.05 467.59 V468.99 M117.10 475.72 V477.12 M120.21 475.72 V477.12 M123.33 475.72 V477.12 " stroke="#a8283e" stroke-width="0.6" fill="none"/>
<path d="M38.25 427.00 L38.90 427.00 L38.90 428.50 L39.55 428.50 L39.55 430.01 L40.20 430.01 L40.20 431.51 L40.48 431.51 L40.48 432.96 L40.75 432.96 L40.75 434.41 L41.03 434.41 L41.03 435.86 L41.30 435.86 L41.30 437.31 L41.60 437.31 L41.60 438.74 L41.90 438.74 L41.90 440.17 L42.20 440.17 L42.20 441.60 L42.50 441.60 L42.50 443.03 L42.80 443.03 L42.80 444.48 L43.11 444.48 L43.11 445.93 L43.41 445.93 L43.41 447.37 L43.71 447.37 L43.71 448.82 L44.13 448.82 L44.13 450.27 L44.56 450.27 L44.56 451.72 L44.98 451.72 L44.98 453.17 L45.41 453.17 L45.41 454.62 L45.78 454.62 L45.78 456.15 L46.14 456.15 L46.14 457.68 L46.51 457.68 L46.51 459.21 L47.95 459.21 L47.95 460.11 L49.39 460.11 L49.39 461.01 L50.85 461.01 L50.85 461.84 L52.30 461.84 L52.30 462.67 L54.00 462.67 L54.00 463.80 L54.60 463.80 L54.60 468.46 L60.39 468.46 L60.39 475.91 L74.21 475.91 L74.21 484.27 L82.51 484.27 L82.51 492.99 L103.76 492.99" stroke="#33538f" stroke-width="1" fill="none" stroke-dasharray="2.7 1.5"/>
<path d="M62.9 430.2 H71.9" stroke="#a8283e" stroke-width="0.9"/>
<path d="M67.4 429.2 V431.2" stroke="#a8283e" stroke-width="0.6"/>
<path d="M62.9 439.8 H71.9" stroke="#33538f" stroke-width="0.9" stroke-dasharray="2.6 1.6"/>
<text x="75.00" y="432.10" font-size="6" text-anchor="start" fill="#222" textLength="21.9" lengthAdjust="spacingAndGlyphs">NRAS WT</text>
<text x="75.00" y="441.70" font-size="6" text-anchor="start" fill="#222" textLength="35.8" lengthAdjust="spacingAndGlyphs">NRAS mutation</text>
<text x="110.00" y="487.50" font-size="5.3" text-anchor="middle" fill="#333" >p=0.042</text>
<path d="M171.75 422.5 V502.25 H259.5" stroke="#1a1a1a" stroke-width="1" fill="none"/>
<path d="M168.75 427.00 H171.75" stroke="#1a1a1a" stroke-width="0.9"/>
<text x="165.45" y="429.00" font-size="5.6" text-anchor="end" fill="#222" >100</text>
<path d="M168.75 464.62 H171.75" stroke="#1a1a1a" stroke-width="0.9"/>
<text x="165.45" y="466.62" font-size="5.6" text-anchor="end" fill="#222" >50</text>
<path d="M168.75 502.25 H171.75" stroke="#1a1a1a" stroke-width="0.9"/>
<text x="165.45" y="504.25" font-size="5.6" text-anchor="end" fill="#222" >0</text>
<path d="M171.75 502.25 V504.85" stroke="#1a1a1a" stroke-width="0.9"/>
<text x="171.75" y="514.25" font-size="5.2" text-anchor="middle" fill="#2a2a2a" >0</text>
<path d="M192.50 502.25 V504.85" stroke="#1a1a1a" stroke-width="0.9"/>
<text x="192.50" y="514.25" font-size="5.2" text-anchor="middle" fill="#2a2a2a" >1000</text>
<path d="M213.25 502.25 V504.85" stroke="#1a1a1a" stroke-width="0.9"/>
<text x="213.25" y="514.25" font-size="5.2" text-anchor="middle" fill="#2a2a2a" >2000</text>
<path d="M234.00 502.25 V504.85" stroke="#1a1a1a" stroke-width="0.9"/>
<text x="234.00" y="514.25" font-size="5.2" text-anchor="middle" fill="#2a2a2a" >3000</text>
<path d="M254.75 502.25 V504.85" stroke="#1a1a1a" stroke-width="0.9"/>
<text x="254.75" y="514.25" font-size="5.2" text-anchor="middle" fill="#2a2a2a" >4000</text>
<text x="215.25" y="524.75" font-size="7.4" text-anchor="middle" fill="#111" stroke="#111" stroke-width="0.15">Days</text>
<text x="0" y="0" font-size="7.6" text-anchor="middle" fill="#111" stroke="#111" stroke-width="0.15" textLength="38.8" lengthAdjust="spacingAndGlyphs" transform="translate(149.95 462.57) rotate(-90)">Survival (%)</text>
<path d="M171.75 427.00 L172.41 427.00 L172.41 428.83 L173.08 428.83 L173.08 430.66 L173.74 430.66 L173.74 432.49 L174.58 432.49 L174.58 434.17 L175.42 434.17 L175.42 435.85 L176.25 435.85 L176.25 437.54 L177.08 437.54 L177.08 439.19 L177.91 439.19 L177.91 440.85 L178.74 440.85 L178.74 442.50 L179.58 442.50 L179.58 444.16 L180.42 444.16 L180.42 445.81 L181.25 445.81 L181.25 447.47 L181.50 447.47 L181.50 448.97 L181.75 448.97 L181.75 450.48 L182.00 450.48 L182.00 451.98 L182.25 451.98 L182.25 453.49 L182.50 453.49 L182.50 454.99 L183.75 454.99 L183.75 456.23 L185.01 456.23 L185.01 457.48 L186.88 457.48 L186.88 458.76 L188.74 458.76 L188.74 460.03 L190.00 460.03 L190.00 461.28 L191.25 461.28 L191.25 462.52 L192.71 462.52 L192.71 464.62 L193.30 464.62 L193.30 466.26 L193.90 466.26 L193.90 467.89 L194.49 467.89 L194.49 469.52 L202.50 469.52 L203.75 469.52 L203.75 471.77 L207.50 471.77 L207.50 474.48 L215.74 474.48 L215.74 479.52 L227.51 479.52 L227.51 483.96 L257.51 483.96" stroke="#a8283e" stroke-width="0.95" fill="none" stroke-linejoin="round"/>
<path d="M184.20 455.28 V456.68 M186.28 456.94 V458.34 M198.72 468.12 V469.52 M200.80 468.12 V469.52 M211.18 473.08 V474.48 M219.47 478.12 V479.52 M238.15 482.56 V483.96 M248.53 482.56 V483.96 M252.68 482.56 V483.96 M255.79 482.56 V483.96 " stroke="#a8283e" stroke-width="0.6" fill="none"/>
<path d="M171.75 427.00 L185.49 427.00 L185.49 434.98 L194.49 434.98 L194.49 451.98 L224.50 451.98" stroke="#33538f" stroke-width="1" fill="none" stroke-dasharray="2.7 1.5"/>
<path d="M201 430.9 H210" stroke="#a8283e" stroke-width="0.9"/>
<path d="M205.5 429.9 V431.9" stroke="#a8283e" stroke-width="0.6"/>
<path d="M201 439.9 H210" stroke="#33538f" stroke-width="0.9" stroke-dasharray="2.6 1.6"/>
<text x="212.90" y="432.80" font-size="6" text-anchor="start" fill="#222" textLength="17.3" lengthAdjust="spacingAndGlyphs">CBL WT</text>
<text x="212.90" y="441.80" font-size="6" text-anchor="start" fill="#222" textLength="31.9" lengthAdjust="spacingAndGlyphs">CBL mutation</text>
<text x="237.50" y="470.20" font-size="5.3" text-anchor="middle" fill="#333" >p=0.049</text>
<path d="M304.75 422.5 V502.25 H392.5" stroke="#1a1a1a" stroke-width="1" fill="none"/>
<path d="M301.75 427.00 H304.75" stroke="#1a1a1a" stroke-width="0.9"/>
<text x="298.45" y="429.00" font-size="5.6" text-anchor="end" fill="#222" >100</text>
<path d="M301.75 464.62 H304.75" stroke="#1a1a1a" stroke-width="0.9"/>
<text x="298.45" y="466.62" font-size="5.6" text-anchor="end" fill="#222" >50</text>
<path d="M301.75 502.25 H304.75" stroke="#1a1a1a" stroke-width="0.9"/>
<text x="298.45" y="504.25" font-size="5.6" text-anchor="end" fill="#222" >0</text>
<path d="M304.75 502.25 V504.85" stroke="#1a1a1a" stroke-width="0.9"/>
<text x="304.75" y="514.25" font-size="5.2" text-anchor="middle" fill="#2a2a2a" >0</text>
<path d="M325.50 502.25 V504.85" stroke="#1a1a1a" stroke-width="0.9"/>
<text x="325.50" y="514.25" font-size="5.2" text-anchor="middle" fill="#2a2a2a" >1000</text>
<path d="M346.25 502.25 V504.85" stroke="#1a1a1a" stroke-width="0.9"/>
<text x="346.25" y="514.25" font-size="5.2" text-anchor="middle" fill="#2a2a2a" >2000</text>
<path d="M367.00 502.25 V504.85" stroke="#1a1a1a" stroke-width="0.9"/>
<text x="367.00" y="514.25" font-size="5.2" text-anchor="middle" fill="#2a2a2a" >3000</text>
<path d="M387.75 502.25 V504.85" stroke="#1a1a1a" stroke-width="0.9"/>
<text x="387.75" y="514.25" font-size="5.2" text-anchor="middle" fill="#2a2a2a" >4000</text>
<text x="348.25" y="524.75" font-size="7.4" text-anchor="middle" fill="#111" stroke="#111" stroke-width="0.15">Days</text>
<text x="0" y="0" font-size="7.6" text-anchor="middle" fill="#111" stroke="#111" stroke-width="0.15" textLength="38.8" lengthAdjust="spacingAndGlyphs" transform="translate(282.95 462.57) rotate(-90)">Survival (%)</text>
<path d="M304.75 427.00 L305.75 427.00 L305.75 428.50 L306.74 428.50 L306.74 430.01 L307.75 430.01 L307.75 431.89 L308.75 431.89 L308.75 433.77 L310.00 433.77 L310.00 435.65 L311.24 435.65 L311.24 437.54 L312.50 437.54 L312.50 438.78 L313.76 438.78 L313.76 440.02 L314.10 440.02 L314.10 441.70 L314.45 441.70 L314.45 443.38 L314.79 443.38 L314.79 445.06 L324.40 445.06 L324.40 448.07 L325.19 448.07 L325.19 455.07 L360.71 455.07 L360.71 466.73 L390.65 466.73" stroke="#a8283e" stroke-width="0.95" fill="none" stroke-linejoin="round"/>
<path d="M317.20 443.66 V445.06 M322.39 443.66 V445.06 M333.80 453.67 V455.07 M342.10 453.67 V455.07 M350.40 453.67 V455.07 M375.30 465.33 V466.73 M387.75 465.33 V466.73 " stroke="#a8283e" stroke-width="0.6" fill="none"/>
<path d="M304.75 427.00 L305.79 427.00 L305.79 428.88 L306.82 428.88 L306.82 430.76 L307.86 430.76 L307.86 432.64 L308.90 432.64 L308.90 434.52 L309.94 434.52 L309.94 436.03 L310.98 436.03 L310.98 437.54 L312.22 437.54 L312.22 439.79 L312.53 439.79 L312.53 441.30 L312.84 441.30 L312.84 442.80 L313.15 442.80 L313.15 444.31 L313.46 444.31 L313.46 445.81 L313.91 445.81 L313.91 447.57 L314.35 447.57 L314.35 449.32 L314.79 449.32 L314.79 451.08 L315.60 451.08 L315.60 452.58 L316.40 452.58 L316.40 454.09 L317.20 454.09 L317.20 455.60 L318.35 455.60 L318.35 457.10 L319.50 457.10 L319.50 458.61 L320.65 458.61 L320.65 460.11 L321.81 460.11 L321.81 461.62 L323.50 461.62 L323.50 463.31 L325.19 463.31 L325.19 465.00 L325.50 465.00 L325.50 466.38 L325.81 466.38 L325.81 467.76 L326.12 467.76 L326.12 469.14 L326.56 469.14 L326.56 470.53 L326.99 470.53 L326.99 471.92 L328.72 471.92 L328.72 472.27 L330.45 472.27 L330.45 472.62 L332.17 472.62 L332.17 472.96 L333.90 472.96 L333.90 473.31 L335.63 473.31 L335.63 473.65 L337.31 473.65 L337.31 475.16 L338.99 475.16 L338.99 476.67 L340.74 476.67 L340.74 477.76 L342.49 477.76 L342.49 478.85 L344.02 478.85 L344.02 479.49 L345.54 479.49 L345.54 480.13 L347.07 480.13 L347.07 480.77 L348.59 480.77 L348.59 481.41 L348.59 490.96 L385.78 490.96" stroke="#33538f" stroke-width="1" fill="none" stroke-dasharray="2.7 1.5"/>
<path d="M327.1 429.8 H336.1" stroke="#a8283e" stroke-width="0.9"/>
<path d="M331.6 428.8 V430.8" stroke="#a8283e" stroke-width="0.6"/>
<path d="M327.1 439 H336.1" stroke="#33538f" stroke-width="0.9" stroke-dasharray="2.6 1.6"/>
<text x="338.80" y="431.70" font-size="6" text-anchor="start" fill="#222" textLength="23.7" lengthAdjust="spacingAndGlyphs">ASXL1 WT</text>
<text x="338.80" y="440.90" font-size="6" text-anchor="start" fill="#222" textLength="37.5" lengthAdjust="spacingAndGlyphs">ASXL1 mutation</text>
<text x="375.50" y="482.70" font-size="5.3" text-anchor="middle" fill="#333" >p=0.037</text>
<path d="M38.25 543 V622.5 H126" stroke="#1a1a1a" stroke-width="1" fill="none"/>
<path d="M35.25 547.50 H38.25" stroke="#1a1a1a" stroke-width="0.9"/>
<text x="31.95" y="549.50" font-size="5.6" text-anchor="end" fill="#222" >100</text>
<path d="M35.25 585.00 H38.25" stroke="#1a1a1a" stroke-width="0.9"/>
<text x="31.95" y="587.00" font-size="5.6" text-anchor="end" fill="#222" >50</text>
<path d="M35.25 622.50 H38.25" stroke="#1a1a1a" stroke-width="0.9"/>
<text x="31.95" y="624.50" font-size="5.6" text-anchor="end" fill="#222" >0</text>
<path d="M38.25 622.5 V625.1" stroke="#1a1a1a" stroke-width="0.9"/>
<text x="38.25" y="634.50" font-size="5.2" text-anchor="middle" fill="#2a2a2a" >0</text>
<path d="M59.00 622.5 V625.1" stroke="#1a1a1a" stroke-width="0.9"/>
<text x="59.00" y="634.50" font-size="5.2" text-anchor="middle" fill="#2a2a2a" >1000</text>
<path d="M79.75 622.5 V625.1" stroke="#1a1a1a" stroke-width="0.9"/>
<text x="79.75" y="634.50" font-size="5.2" text-anchor="middle" fill="#2a2a2a" >2000</text>
<path d="M100.50 622.5 V625.1" stroke="#1a1a1a" stroke-width="0.9"/>
<text x="100.50" y="634.50" font-size="5.2" text-anchor="middle" fill="#2a2a2a" >3000</text>
<path d="M121.25 622.5 V625.1" stroke="#1a1a1a" stroke-width="0.9"/>
<text x="121.25" y="634.50" font-size="5.2" text-anchor="middle" fill="#2a2a2a" >4000</text>
<text x="81.75" y="645.00" font-size="7.4" text-anchor="middle" fill="#111" stroke="#111" stroke-width="0.15">Days</text>
<text x="0" y="0" font-size="7.6" text-anchor="middle" fill="#111" stroke="#111" stroke-width="0.15" textLength="38.8" lengthAdjust="spacingAndGlyphs" transform="translate(16.45 582.95) rotate(-90)">Survival (%)</text>
<path d="M38.25 547.50 L40.12 547.50 L40.12 549.00 L41.01 549.00 L41.01 550.99 L41.90 550.99 L41.90 552.98 L42.77 552.98 L42.77 554.74 L43.65 554.74 L43.65 556.50 L44.27 556.50 L44.27 558.00 L44.89 558.00 L44.89 559.50 L45.51 559.50 L45.51 561.00 L46.14 561.00 L46.14 562.69 L46.76 562.69 L46.76 564.38 L47.38 564.38 L47.38 566.06 L48.00 566.06 L48.00 567.75 L49.35 567.75 L49.35 569.25 L50.70 569.25 L50.70 570.75 L52.36 570.75 L52.36 571.88 L54.02 571.88 L54.02 573.00 L55.76 573.00 L55.76 574.24 L57.51 574.24 L57.51 575.48 L58.25 575.48 L58.25 577.24 L59.00 577.24 L59.00 579.00 L59.50 579.00 L59.50 580.69 L60.00 580.69 L60.00 582.38 L60.49 582.38 L60.49 584.06 L60.99 584.06 L60.99 585.75 L67.90 585.75 L67.90 587.62 L73.90 587.62 L73.90 591.00 L81.70 591.00 L81.70 595.42 L94.69 595.42 L94.69 600.90 L124.98 600.90" stroke="#a8283e" stroke-width="0.95" fill="none" stroke-linejoin="round"/>
<path d="M55.89 572.93 V574.33 M65.22 584.35 V585.75 M71.45 586.23 V587.62 M76.64 589.60 V591.00 M90.12 594.02 V595.42 M119.17 599.50 V600.90 M123.33 599.50 V600.90 " stroke="#a8283e" stroke-width="0.6" fill="none"/>
<path d="M38.25 547.50 L38.77 547.50 L38.77 549.00 L39.29 549.00 L39.29 550.50 L39.70 550.50 L39.70 552.00 L40.12 552.00 L40.12 553.50 L40.53 553.50 L40.53 555.00 L40.88 555.00 L40.88 556.75 L41.22 556.75 L41.22 558.50 L41.57 558.50 L41.57 560.25 L41.85 560.25 L41.85 562.00 L42.12 562.00 L42.12 563.75 L42.40 563.75 L42.40 565.50 L42.60 565.50 L42.60 567.38 L42.79 567.38 L42.79 569.25 L47.09 569.25 L47.09 591.00 L51.95 591.00 L51.95 595.50 L62.67 595.50" stroke="#33538f" stroke-width="1" fill="none" stroke-dasharray="2.7 1.5"/>
<path d="M60.2 550.8 H69.2" stroke="#a8283e" stroke-width="0.9"/>
<path d="M64.7 549.8 V551.8" stroke="#a8283e" stroke-width="0.6"/>
<path d="M60.2 560 H69.2" stroke="#33538f" stroke-width="0.9" stroke-dasharray="2.6 1.6"/>
<text x="72.10" y="552.70" font-size="6" text-anchor="start" fill="#222" textLength="23.9" lengthAdjust="spacingAndGlyphs">GATA2 WT</text>
<text x="72.10" y="561.90" font-size="6" text-anchor="start" fill="#222" textLength="38.9" lengthAdjust="spacingAndGlyphs">GATA2 mutation</text>
<text x="109.00" y="610.50" font-size="5.3" text-anchor="middle" fill="#333" >p=0.034</text>
<path d="M171.5 543 V622.5 H259.5" stroke="#1a1a1a" stroke-width="1" fill="none"/>
<path d="M168.5 547.50 H171.5" stroke="#1a1a1a" stroke-width="0.9"/>
<text x="165.20" y="549.50" font-size="5.6" text-anchor="end" fill="#222" >100</text>
<path d="M168.5 585.00 H171.5" stroke="#1a1a1a" stroke-width="0.9"/>
<text x="165.20" y="587.00" font-size="5.6" text-anchor="end" fill="#222" >50</text>
<path d="M168.5 622.50 H171.5" stroke="#1a1a1a" stroke-width="0.9"/>
<text x="165.20" y="624.50" font-size="5.6" text-anchor="end" fill="#222" >0</text>
<path d="M171.50 622.5 V625.1" stroke="#1a1a1a" stroke-width="0.9"/>
<text x="171.50" y="634.50" font-size="5.2" text-anchor="middle" fill="#2a2a2a" >0</text>
<path d="M192.25 622.5 V625.1" stroke="#1a1a1a" stroke-width="0.9"/>
<text x="192.25" y="634.50" font-size="5.2" text-anchor="middle" fill="#2a2a2a" >1000</text>
<path d="M213.00 622.5 V625.1" stroke="#1a1a1a" stroke-width="0.9"/>
<text x="213.00" y="634.50" font-size="5.2" text-anchor="middle" fill="#2a2a2a" >2000</text>
<path d="M233.75 622.5 V625.1" stroke="#1a1a1a" stroke-width="0.9"/>
<text x="233.75" y="634.50" font-size="5.2" text-anchor="middle" fill="#2a2a2a" >3000</text>
<path d="M254.50 622.5 V625.1" stroke="#1a1a1a" stroke-width="0.9"/>
<text x="254.50" y="634.50" font-size="5.2" text-anchor="middle" fill="#2a2a2a" >4000</text>
<text x="215.00" y="645.00" font-size="7.4" text-anchor="middle" fill="#111" stroke="#111" stroke-width="0.15">Days</text>
<text x="0" y="0" font-size="7.6" text-anchor="middle" fill="#111" stroke="#111" stroke-width="0.15" textLength="38.8" lengthAdjust="spacingAndGlyphs" transform="translate(149.70 582.95) rotate(-90)">Survival (%)</text>
<path d="M171.50 547.50 L173.57 547.50 L173.57 549.38 L174.62 549.38 L174.62 551.15 L175.66 551.15 L175.66 552.93 L176.71 552.93 L176.71 554.70 L177.25 554.70 L177.25 556.30 L177.80 556.30 L177.80 557.90 L178.35 557.90 L178.35 559.50 L178.71 559.50 L178.71 561.00 L179.07 561.00 L179.07 562.50 L179.44 562.50 L179.44 564.00 L179.80 564.00 L179.80 565.50 L180.30 565.50 L180.30 566.91 L180.80 566.91 L180.80 568.31 L181.29 568.31 L181.29 569.72 L181.79 569.72 L181.79 571.12 L183.39 571.12 L183.39 572.62 L184.99 572.62 L184.99 574.12 L186.89 574.12 L186.89 575.66 L188.78 575.66 L188.78 577.20 L190.08 577.20 L190.08 578.06 L191.38 578.06 L191.38 578.92 L191.81 578.92 L191.81 580.46 L192.25 580.46 L192.25 582.00 L192.69 582.00 L192.69 583.41 L193.12 583.41 L193.12 584.81 L193.56 584.81 L193.56 586.22 L193.99 586.22 L193.99 587.62 L201.69 587.62 L201.69 590.17 L206.90 590.17 L206.90 591.90 L215.57 591.90 L215.57 596.70 L227.69 596.70 L227.69 601.88 L257.51 601.88" stroke="#a8283e" stroke-width="0.95" fill="none" stroke-linejoin="round"/>
<path d="M190.18 576.72 V578.12 M199.51 586.23 V587.62 M202.62 588.77 V590.17 M223.38 595.30 V596.70 M235.82 600.48 V601.88 M248.28 600.48 V601.88 M252.43 600.48 V601.88 " stroke="#a8283e" stroke-width="0.6" fill="none"/>
<path d="M171.50 547.50 L172.12 547.50 L172.12 549.38 L172.75 549.38 L172.75 551.25 L173.37 551.25 L173.37 553.12 L173.99 553.12 L173.99 555.00 L174.54 555.00 L174.54 556.75 L175.10 556.75 L175.10 558.50 L175.65 558.50 L175.65 560.25 L176.69 560.25 L176.69 562.50 L176.69 606.75 L210.41 606.75" stroke="#33538f" stroke-width="1" fill="none" stroke-dasharray="2.7 1.5"/>
<path d="M184.75 550.6 H193.75" stroke="#a8283e" stroke-width="0.9"/>
<path d="M189.25 549.6 V551.6" stroke="#a8283e" stroke-width="0.6"/>
<path d="M184.75 560 H193.75" stroke="#33538f" stroke-width="0.9" stroke-dasharray="2.6 1.6"/>
<text x="198.10" y="552.50" font-size="6" text-anchor="start" fill="#222" textLength="30.0" lengthAdjust="spacingAndGlyphs">DNMT3A WT</text>
<text x="198.10" y="561.90" font-size="6" text-anchor="start" fill="#222" textLength="43.8" lengthAdjust="spacingAndGlyphs">DNMT3A mutation</text>
<text x="242.00" y="613.00" font-size="5.3" text-anchor="middle" fill="#333" >p=0.019</text>
<path d="M0 0.6 H520" stroke="#000" stroke-width="1.2"/>
<path d="M0.8 0 V655" stroke="#484848" stroke-width="1.6"/>
<path d="M519.2 0 V655" stroke="#484848" stroke-width="1.6"/>
<path d="M0 654.2 H520" stroke="#484848" stroke-width="1.6"/>
</svg>
</body></html>
